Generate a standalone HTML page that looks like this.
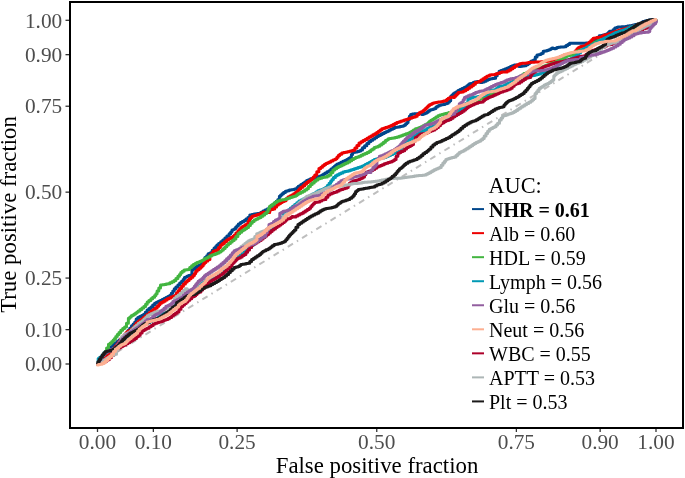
<!DOCTYPE html>
<html><head><meta charset="utf-8"><style>
html,body{margin:0;padding:0;background:#fff;}
body{width:685px;height:478px;overflow:hidden;}
svg{display:block;will-change:transform;}
text{font-family:"Liberation Serif",serif;}
.tk{font-size:21.3px;fill:#4D4D4D;}
.ti{font-size:22.8px;fill:#000;}
.lt{font-size:22.3px;fill:#000;}
.li{font-size:20px;fill:#000;}
.b{font-weight:bold;}
</style></head><body>
<svg width="685" height="478" viewBox="0 0 685 478">
<rect x="0" y="0" width="685" height="478" fill="#fff"/>
<line x1="97.5" y1="364.0" x2="656.0" y2="20.3" stroke="#BEBEBE" stroke-width="2" stroke-dasharray="1.52 4.56 6.08 4.56" />
<path d="M97.5,364.0 L98.4,364.0 L98.4,361.0 L99.2,361.0 L100.1,361.0 L100.1,358.0 L101.0,358.0 L102.0,358.0 L102.0,355.2 L103.0,355.2 L104.0,355.2 L104.0,352.5 L105.0,352.5 L105.8,352.5 L105.8,351.2 L106.7,351.2 L107.5,351.2 L107.5,349.9 L108.3,349.9 L109.2,349.9 L109.2,348.6 L110.0,348.6 L111.0,348.6 L111.0,346.7 L111.9,346.7 L112.8,346.7 L112.8,344.8 L113.8,344.8 L114.8,344.8 L114.8,343.1 L115.9,343.1 L117.0,343.1 L117.0,341.5 L118.0,341.5 L119.0,341.5 L119.0,340.0 L120.0,340.0 L121.0,340.0 L121.0,338.5 L122.0,338.5 L122.8,338.5 L122.8,336.7 L123.7,336.7 L124.5,336.7 L124.5,334.8 L125.3,334.8 L126.2,334.8 L126.2,333.0 L127.0,333.0 L127.9,333.0 L127.9,330.6 L128.8,330.6 L129.7,330.6 L129.7,328.2 L130.6,328.2 L131.5,328.2 L131.5,325.8 L132.4,325.8 L133.2,325.8 L133.2,323.9 L134.0,323.9 L134.8,323.9 L134.8,322.0 L135.6,322.0 L136.2,322.0 L136.2,318.9 L136.8,318.9 L137.8,318.9 L137.8,317.6 L138.7,317.6 L139.6,317.6 L139.6,316.4 L140.6,316.4 L141.6,316.4 L141.6,315.4 L142.5,315.4 L143.4,315.4 L143.4,314.5 L144.4,314.5 L145.3,314.5 L145.3,312.3 L146.2,312.3 L147.1,312.3 L147.1,310.1 L148.0,310.1 L148.9,310.1 L148.9,308.5 L149.9,308.5 L150.9,308.5 L150.9,306.9 L151.8,306.9 L152.7,306.9 L152.7,305.0 L153.7,305.0 L154.6,305.0 L154.6,303.2 L155.5,303.2 L156.4,303.2 L156.4,302.2 L157.4,302.2 L158.4,302.2 L158.4,301.3 L159.3,301.3 L160.2,301.3 L160.2,300.4 L161.2,300.4 L162.1,300.4 L162.1,299.4 L163.1,299.4 L164.0,299.4 L164.0,298.4 L164.9,298.4 L165.9,298.4 L165.9,297.5 L166.8,297.5 L167.8,297.5 L167.8,296.6 L168.7,296.6 L169.6,296.6 L169.6,295.6 L170.6,295.6 L171.3,295.6 L171.3,293.3 L172.1,293.3 L172.8,293.3 L172.8,291.1 L173.5,291.1 L174.3,291.1 L174.3,288.8 L175.0,288.8 L175.9,288.8 L175.9,286.9 L176.9,286.9 L177.9,286.9 L177.9,285.0 L178.8,285.0 L179.7,285.0 L179.7,283.1 L180.7,283.1 L181.6,283.1 L181.6,281.3 L182.5,281.3 L183.1,281.3 L183.1,279.4 L183.8,279.4 L184.4,279.4 L184.4,277.5 L185.0,277.5 L185.7,277.5 L185.7,276.9 L186.3,276.9 L186.9,276.9 L186.9,276.3 L187.6,276.3 L188.5,276.3 L188.5,275.6 L189.4,275.6 L190.4,275.6 L190.4,275.0 L191.3,275.0 L191.9,275.0 L191.9,270.1 L192.5,270.1 L193.3,270.1 L193.3,268.8 L194.2,268.8 L195.1,268.8 L195.1,267.6 L195.9,267.6 L196.8,267.6 L196.8,266.3 L197.6,266.3 L198.5,266.3 L198.5,265.4 L199.4,265.4 L200.4,265.4 L200.4,264.4 L201.3,264.4 L201.9,264.4 L201.9,263.1 L202.6,263.1 L203.2,263.1 L203.2,261.9 L203.8,261.9 L204.9,261.9 L204.9,257.5 L206.0,257.5 L206.7,257.5 L206.7,255.7 L207.4,255.7 L208.1,255.7 L208.1,253.8 L208.8,253.8 L209.4,253.8 L209.4,253.2 L210.1,253.2 L210.7,253.2 L210.7,252.5 L211.3,252.5 L212.2,252.5 L212.2,250.2 L213.2,250.2 L214.1,250.2 L214.1,248.0 L215.0,248.0 L215.7,248.0 L215.7,246.6 L216.3,246.6 L216.9,246.6 L216.9,245.1 L217.6,245.1 L218.6,245.1 L218.6,243.4 L219.7,243.4 L220.7,243.4 L220.7,241.8 L221.7,241.8 L222.8,241.8 L222.8,240.1 L223.8,240.1 L224.9,240.1 L224.9,238.0 L225.9,238.0 L226.9,238.0 L226.9,235.9 L228.0,235.9 L229.1,235.9 L229.1,233.8 L230.1,233.8 L230.7,233.8 L230.7,231.9 L231.3,231.9 L232.0,231.9 L232.0,230.0 L232.6,230.0 L233.2,230.0 L233.2,229.4 L233.8,229.4 L234.4,229.4 L234.4,228.8 L235.0,228.8 L235.6,228.8 L235.6,227.2 L236.2,227.2 L236.9,227.2 L236.9,225.7 L237.5,225.7 L238.4,225.7 L238.4,224.1 L239.4,224.1 L240.4,224.1 L240.4,222.5 L241.3,222.5 L242.2,222.5 L242.2,221.6 L243.2,221.6 L244.1,221.6 L244.1,220.6 L245.0,220.6 L245.9,220.6 L245.9,219.1 L246.9,219.1 L247.9,219.1 L247.9,217.5 L248.8,217.5 L249.8,217.5 L249.8,215.0 L250.7,215.0 L251.8,215.0 L251.8,214.5 L252.8,214.5 L253.9,214.5 L253.9,214.0 L255.0,214.0 L255.8,214.0 L255.8,213.7 L256.7,213.7 L257.5,213.7 L257.5,213.5 L258.3,213.5 L259.2,213.5 L259.2,213.2 L260.0,213.2 L261.0,213.2 L261.0,212.2 L262.0,212.2 L263.0,212.2 L263.0,211.1 L264.0,211.1 L265.0,211.1 L265.0,210.1 L266.0,210.1 L267.0,210.1 L267.0,209.0 L268.0,209.0 L269.0,209.0 L269.0,208.0 L270.0,208.0 L270.9,208.0 L270.9,206.3 L271.8,206.3 L272.6,206.3 L272.6,204.6 L273.5,204.6 L274.4,204.6 L274.4,202.9 L275.3,202.9 L276.2,202.9 L276.2,201.2 L277.0,201.2 L277.9,201.2 L277.9,199.5 L278.8,199.5 L279.4,199.5 L279.4,196.3 L280.0,196.3 L280.6,196.3 L280.6,195.1 L281.3,195.1 L282.0,195.1 L282.0,193.8 L282.6,193.8 L283.5,193.8 L283.5,192.6 L284.5,192.6 L285.4,192.6 L285.4,191.3 L286.3,191.3 L287.2,191.3 L287.2,190.7 L288.2,190.7 L289.2,190.7 L289.2,190.0 L290.1,190.0 L291.1,190.0 L291.1,189.7 L292.0,189.7 L292.9,189.7 L292.9,189.4 L293.9,189.4 L294.5,189.4 L294.5,189.1 L295.1,189.1 L295.8,189.1 L295.8,188.8 L296.4,188.8 L297.0,188.8 L297.0,187.6 L297.6,187.6 L298.3,187.6 L298.3,186.3 L298.9,186.3 L299.4,186.3 L299.4,185.7 L300.0,185.7 L300.9,185.7 L300.9,184.4 L301.9,184.4 L302.9,184.4 L302.9,183.2 L303.8,183.2 L304.7,183.2 L304.7,181.9 L305.6,181.9 L306.6,181.9 L306.6,180.6 L307.5,180.6 L308.4,180.6 L308.4,179.7 L309.4,179.7 L310.4,179.7 L310.4,178.8 L311.3,178.8 L312.1,178.8 L312.1,178.4 L313.0,178.4 L313.8,178.4 L313.8,177.9 L314.6,177.9 L315.5,177.9 L315.5,177.5 L316.3,177.5 L317.2,177.5 L317.2,176.9 L318.2,176.9 L319.2,176.9 L319.2,176.3 L320.1,176.3 L320.7,176.3 L320.7,175.7 L321.4,175.7 L322.0,175.7 L322.0,175.0 L322.6,175.0 L323.5,175.0 L323.5,174.0 L324.3,174.0 L325.1,174.0 L325.1,173.0 L326.0,173.0 L327.0,173.0 L327.0,171.8 L328.0,171.8 L329.0,171.8 L329.0,170.7 L330.0,170.7 L330.9,170.7 L330.9,169.1 L331.9,169.1 L332.9,169.1 L332.9,167.6 L333.8,167.6 L334.4,167.6 L334.4,166.3 L335.1,166.3 L335.7,166.3 L335.7,165.1 L336.3,165.1 L337.2,165.1 L337.2,164.1 L338.1,164.1 L339.1,164.1 L339.1,163.2 L340.0,163.2 L340.9,163.2 L340.9,162.2 L341.9,162.2 L342.9,162.2 L342.9,161.3 L343.8,161.3 L344.8,161.3 L344.8,160.4 L345.7,160.4 L346.7,160.4 L346.7,159.4 L347.6,159.4 L348.4,159.4 L348.4,158.4 L349.1,158.4 L349.9,158.4 L349.9,157.5 L350.7,157.5 L351.4,157.5 L351.4,154.4 L352.0,154.4 L352.6,154.4 L352.6,152.5 L353.2,152.5 L354.0,152.5 L354.0,152.2 L354.8,152.2 L355.6,152.2 L355.6,151.9 L356.4,151.9 L357.3,151.9 L357.3,151.4 L358.2,151.4 L359.1,151.4 L359.1,150.9 L360.0,150.9 L360.7,150.9 L360.7,150.0 L361.4,150.0 L362.5,150.0 L362.5,147.8 L363.5,147.8 L364.6,147.8 L364.6,145.7 L365.7,145.7 L366.8,145.7 L366.8,143.6 L367.9,143.6 L368.9,143.6 L368.9,141.4 L370.0,141.4 L370.9,141.4 L370.9,140.2 L371.9,140.2 L372.8,140.2 L372.8,138.9 L373.8,138.9 L374.7,138.9 L374.7,137.7 L375.6,137.7 L376.6,137.7 L376.6,136.4 L377.5,136.4 L378.4,136.4 L378.4,135.4 L379.4,135.4 L380.4,135.4 L380.4,134.5 L381.3,134.5 L382.2,134.5 L382.2,133.6 L383.2,133.6 L384.2,133.6 L384.2,132.6 L385.1,132.6 L385.9,132.6 L385.9,131.8 L386.8,131.8 L387.6,131.8 L387.6,130.9 L388.4,130.9 L389.3,130.9 L389.3,130.1 L390.1,130.1 L390.9,130.1 L390.9,129.3 L391.8,129.3 L392.6,129.3 L392.6,128.4 L393.4,128.4 L394.3,128.4 L394.3,127.6 L395.1,127.6 L396.0,127.6 L396.0,127.3 L397.0,127.3 L397.9,127.3 L397.9,126.9 L398.9,126.9 L399.8,126.9 L399.8,126.6 L400.7,126.6 L401.7,126.6 L401.7,126.3 L402.6,126.3 L403.2,126.3 L403.2,125.7 L403.8,125.7 L404.4,125.7 L404.4,125.1 L405.0,125.1 L405.6,125.1 L405.6,123.8 L406.2,123.8 L406.9,123.8 L406.9,122.6 L407.5,122.6 L408.1,122.6 L408.1,119.4 L408.8,119.4 L409.4,119.4 L409.4,116.3 L410.0,116.3 L410.6,116.3 L410.6,114.4 L411.3,114.4 L412.2,114.4 L412.2,114.1 L413.1,114.1 L414.1,114.1 L414.1,113.8 L415.0,113.8 L416.0,113.8 L416.0,113.7 L417.0,113.7 L418.0,113.7 L418.0,113.6 L419.0,113.6 L420.0,113.6 L420.0,113.5 L421.0,113.5 L421.8,113.5 L421.8,114.4 L422.5,114.4 L423.1,114.4 L423.1,114.0 L423.8,114.0 L424.4,114.0 L424.4,113.6 L425.0,113.6 L425.6,113.6 L425.6,112.9 L426.2,112.9 L426.9,112.9 L426.9,112.3 L427.5,112.3 L428.1,112.3 L428.1,111.2 L428.8,111.2 L429.4,111.2 L429.4,110.2 L430.0,110.2 L430.6,110.2 L430.6,109.8 L431.3,109.8 L432.0,109.8 L432.0,109.4 L432.6,109.4 L433.2,109.4 L433.2,109.0 L433.9,109.0 L434.5,109.0 L434.5,108.6 L435.1,108.6 L435.9,108.6 L435.9,106.9 L436.7,106.9 L437.5,106.9 L437.5,106.0 L438.4,106.0 L439.2,106.0 L439.2,105.2 L440.0,105.2 L440.9,105.2 L440.9,104.8 L441.9,104.8 L442.9,104.8 L442.9,104.4 L443.8,104.4 L444.8,104.4 L444.8,103.8 L445.7,103.8 L446.7,103.8 L446.7,103.2 L447.6,103.2 L448.2,103.2 L448.2,102.0 L448.9,102.0 L449.5,102.0 L449.5,100.7 L450.1,100.7 L450.7,100.7 L450.7,96.3 L451.3,96.3 L451.9,96.3 L451.9,95.0 L452.6,95.0 L453.2,95.0 L453.2,93.8 L453.8,93.8 L454.6,93.8 L454.6,92.7 L455.5,92.7 L456.4,92.7 L456.4,91.7 L457.2,91.7 L458.0,91.7 L458.0,90.6 L458.9,90.6 L459.9,90.6 L459.9,89.6 L460.9,89.6 L461.9,89.6 L461.9,88.6 L463.0,88.6 L464.0,88.6 L464.0,87.6 L465.0,87.6 L465.6,87.6 L465.6,86.7 L466.2,86.7 L466.9,86.7 L466.9,85.7 L467.5,85.7 L468.1,85.7 L468.1,84.8 L468.8,84.8 L469.4,84.8 L469.4,83.8 L470.0,83.8 L470.6,83.8 L470.6,83.5 L471.2,83.5 L471.9,83.5 L471.9,83.2 L472.5,83.2 L473.1,83.2 L473.1,82.6 L473.8,82.6 L474.4,82.6 L474.4,81.9 L475.0,81.9 L475.8,81.9 L475.8,81.7 L476.5,81.7 L477.2,81.7 L477.2,81.5 L478.0,81.5 L478.8,81.5 L478.8,82.0 L479.6,82.0 L480.5,82.0 L480.5,82.6 L481.3,82.6 L482.2,82.6 L482.2,81.9 L483.2,81.9 L484.2,81.9 L484.2,81.3 L485.1,81.3 L486.1,81.3 L486.1,80.3 L487.0,80.3 L487.9,80.3 L487.9,79.4 L488.9,79.4 L489.5,79.4 L489.5,79.1 L490.1,79.1 L490.8,79.1 L490.8,78.8 L491.4,78.8 L492.3,78.8 L492.3,78.5 L493.2,78.5 L494.1,78.5 L494.1,78.2 L495.0,78.2 L495.6,78.2 L495.6,75.7 L496.3,75.7 L497.2,75.7 L497.2,73.5 L498.1,73.5 L499.1,73.5 L499.1,71.3 L500.0,71.3 L500.9,71.3 L500.9,70.5 L501.9,70.5 L502.9,70.5 L502.9,69.8 L503.8,69.8 L504.8,69.8 L504.8,69.0 L505.7,69.0 L506.7,69.0 L506.7,68.2 L507.6,68.2 L508.5,68.2 L508.5,67.4 L509.5,67.4 L510.4,67.4 L510.4,66.6 L511.3,66.6 L512.2,66.6 L512.2,65.8 L513.2,65.8 L514.2,65.8 L514.2,65.0 L515.1,65.0 L515.8,65.0 L515.8,65.0 L516.5,65.0 L517.3,65.0 L517.3,65.0 L518.0,65.0 L519.0,65.0 L519.0,66.6 L520.1,66.6 L520.9,66.6 L520.9,66.3 L521.7,66.3 L522.5,66.3 L522.5,66.0 L523.4,66.0 L524.2,66.0 L524.2,65.7 L525.0,65.7 L526.0,65.7 L526.0,64.8 L526.9,64.8 L527.8,64.8 L527.8,63.8 L528.8,63.8 L529.4,63.8 L529.4,62.5 L530.0,62.5 L530.7,62.5 L530.7,61.3 L531.3,61.3 L532.1,61.3 L532.1,60.7 L532.8,60.7 L533.6,60.7 L533.6,60.1 L534.4,60.1 L535.3,60.1 L535.3,56.9 L536.3,56.9 L537.0,56.9 L537.0,55.0 L537.6,55.0 L538.2,55.0 L538.2,54.7 L538.9,54.7 L539.5,54.7 L539.5,54.4 L540.1,54.4 L540.7,54.4 L540.7,53.8 L541.4,53.8 L542.0,53.8 L542.0,53.2 L542.6,53.2 L543.2,53.2 L543.2,51.3 L543.8,51.3 L544.8,51.3 L544.8,51.0 L545.7,51.0 L546.7,51.0 L546.7,50.6 L547.6,50.6 L548.2,50.6 L548.2,50.0 L548.9,50.0 L549.5,50.0 L549.5,49.4 L550.1,49.4 L550.7,49.4 L550.7,48.8 L551.4,48.8 L552.0,48.8 L552.0,48.1 L552.6,48.1 L553.2,48.1 L553.2,48.4 L553.8,48.4 L554.4,48.4 L554.4,48.7 L555.0,48.7 L555.6,48.7 L555.6,48.2 L556.2,48.2 L556.9,48.2 L556.9,47.6 L557.5,47.6 L558.5,47.6 L558.5,47.3 L559.4,47.3 L560.3,47.3 L560.3,47.0 L561.3,47.0 L562.2,47.0 L562.2,46.9 L563.1,46.9 L564.1,46.9 L564.1,46.7 L565.0,46.7 L566.0,46.7 L566.0,45.6 L566.9,45.6 L567.8,45.6 L567.8,44.5 L568.8,44.5 L569.5,44.5 L569.5,43.3 L570.1,43.3 L571.2,43.3 L571.2,43.3 L572.2,43.3 L573.3,43.3 L573.3,43.3 L574.4,43.3 L575.4,43.3 L575.4,43.3 L576.5,43.3 L577.5,43.3 L577.5,43.3 L578.6,43.3 L579.7,43.3 L579.7,43.3 L580.7,43.3 L581.8,43.3 L581.8,43.3 L582.9,43.3 L583.9,43.3 L583.9,43.3 L585.0,43.3 L585.8,43.3 L585.8,43.1 L586.7,43.1 L587.5,43.1 L587.5,43.0 L588.3,43.0 L589.2,43.0 L589.2,42.8 L590.0,42.8 L590.8,42.8 L590.8,42.1 L591.7,42.1 L592.5,42.1 L592.5,41.4 L593.3,41.4 L594.2,41.4 L594.2,40.7 L595.0,40.7 L595.9,40.7 L595.9,39.0 L596.7,39.0 L597.5,39.0 L597.5,37.4 L598.4,37.4 L599.2,37.4 L599.2,35.7 L600.1,35.7 L601.0,35.7 L601.0,35.4 L602.0,35.4 L602.9,35.4 L602.9,35.0 L603.8,35.0 L604.8,35.0 L604.8,34.4 L605.7,34.4 L606.7,34.4 L606.7,33.8 L607.6,33.8 L608.2,33.8 L608.2,32.5 L608.9,32.5 L609.5,32.5 L609.5,31.3 L610.1,31.3 L611.0,31.3 L611.0,31.5 L612.0,31.5 L613.0,31.5 L613.0,29.7 L613.9,29.7 L614.8,29.7 L614.8,27.9 L615.8,27.9 L616.4,27.9 L616.4,27.4 L617.0,27.4 L617.7,27.4 L617.7,27.0 L618.3,27.0 L619.3,27.0 L619.3,26.9 L620.4,26.9 L621.5,26.9 L621.5,26.8 L622.5,26.8 L623.5,26.8 L623.5,26.7 L624.6,26.7 L625.5,26.7 L625.5,26.4 L626.5,26.4 L627.4,26.4 L627.4,26.1 L628.3,26.1 L629.2,26.1 L629.2,25.8 L630.2,25.8 L631.2,25.8 L631.2,25.4 L632.1,25.4 L633.0,25.4 L633.0,24.9 L634.0,24.9 L635.0,24.9 L635.0,24.5 L635.9,24.5 L636.8,24.5 L636.8,24.4 L637.8,24.4 L638.7,24.4 L638.7,24.2 L639.6,24.2 L640.7,24.2 L640.7,22.9 L641.7,22.9 L642.8,22.9 L642.8,21.5 L643.8,21.5 L644.8,21.5 L644.8,21.0 L645.7,21.0 L646.7,21.0 L646.7,20.5 L647.6,20.5 L648.7,20.5 L648.7,20.1 L649.8,20.1 L650.9,20.1 L650.9,19.8 L652.0,19.8 L652.8,19.8 L652.8,19.7 L653.5,19.7 L654.2,19.7 L654.2,19.6 L655.0,19.6" fill="none" stroke="#00468B" stroke-width="3" stroke-linejoin="round" stroke-linecap="round"/>
<path d="M97.5,364.0 L98.2,364.0 L98.2,362.3 L99.0,362.3 L99.8,362.3 L99.8,360.7 L100.5,360.7 L101.2,360.7 L101.2,359.0 L102.0,359.0 L102.8,359.0 L102.8,357.8 L103.6,357.8 L104.5,357.8 L104.5,356.7 L105.3,356.7 L106.1,356.7 L106.1,355.5 L106.9,355.5 L107.9,355.5 L107.9,353.8 L109.0,353.8 L110.0,353.8 L110.0,352.0 L111.0,352.0 L111.9,352.0 L111.9,350.0 L112.8,350.0 L113.6,350.0 L113.6,348.0 L114.5,348.0 L115.4,348.0 L115.4,346.0 L116.2,346.0 L117.1,346.0 L117.1,344.0 L118.0,344.0 L118.8,344.0 L118.8,341.7 L119.7,341.7 L120.5,341.7 L120.5,339.3 L121.3,339.3 L122.2,339.3 L122.2,337.0 L123.0,337.0 L123.7,337.0 L123.7,335.4 L124.5,335.4 L125.2,335.4 L125.2,333.7 L125.9,333.7 L126.7,333.7 L126.7,332.1 L127.4,332.1 L128.2,332.1 L128.2,331.1 L129.0,331.1 L129.8,331.1 L129.8,330.2 L130.6,330.2 L131.4,330.2 L131.4,328.9 L132.1,328.9 L132.9,328.9 L132.9,327.7 L133.7,327.7 L134.5,327.7 L134.5,325.5 L135.2,325.5 L136.0,325.5 L136.0,323.3 L136.8,323.3 L137.8,323.3 L137.8,321.8 L138.7,321.8 L139.6,321.8 L139.6,320.2 L140.6,320.2 L141.6,320.2 L141.6,318.9 L142.5,318.9 L143.4,318.9 L143.4,317.6 L144.4,317.6 L145.3,317.6 L145.3,316.1 L146.2,316.1 L147.1,316.1 L147.1,314.5 L148.0,314.5 L149.1,314.5 L149.1,312.8 L150.1,312.8 L151.2,312.8 L151.2,311.1 L152.2,311.1 L153.2,311.1 L153.2,309.4 L154.3,309.4 L155.2,309.4 L155.2,307.9 L156.2,307.9 L157.1,307.9 L157.1,306.3 L158.0,306.3 L158.7,306.3 L158.7,304.8 L159.3,304.8 L159.9,304.8 L159.9,303.2 L160.6,303.2 L161.5,303.2 L161.5,302.2 L162.4,302.2 L163.4,302.2 L163.4,301.3 L164.3,301.3 L165.2,301.3 L165.2,300.1 L166.2,300.1 L167.1,300.1 L167.1,298.8 L168.1,298.8 L169.1,298.8 L169.1,297.9 L170.0,297.9 L170.9,297.9 L170.9,296.9 L171.9,296.9 L172.8,296.9 L172.8,296.2 L173.8,296.2 L174.7,296.2 L174.7,295.6 L175.6,295.6 L176.4,295.6 L176.4,293.1 L177.2,293.1 L178.0,293.1 L178.0,290.7 L178.8,290.7 L179.7,290.7 L179.7,288.5 L180.7,288.5 L181.6,288.5 L181.6,286.3 L182.5,286.3 L183.4,286.3 L183.4,284.1 L184.4,284.1 L185.4,284.1 L185.4,281.9 L186.3,281.9 L187.2,281.9 L187.2,280.4 L188.2,280.4 L189.1,280.4 L189.1,278.8 L190.1,278.8 L191.0,278.8 L191.0,277.2 L191.9,277.2 L192.9,277.2 L192.9,275.6 L193.8,275.6 L194.4,275.6 L194.4,273.5 L195.1,273.5 L195.7,273.5 L195.7,271.3 L196.3,271.3 L197.2,271.3 L197.2,269.8 L198.2,269.8 L199.1,269.8 L199.1,268.2 L200.1,268.2 L200.7,268.2 L200.7,266.9 L201.3,266.9 L202.0,266.9 L202.0,265.7 L202.6,265.7 L203.2,265.7 L203.2,264.1 L203.8,264.1 L204.4,264.1 L204.4,262.6 L205.0,262.6 L205.9,262.6 L205.9,261.0 L206.9,261.0 L207.9,261.0 L207.9,259.4 L208.8,259.4 L209.9,259.4 L209.9,255.0 L211.0,255.0 L211.7,255.0 L211.7,253.2 L212.4,253.2 L213.1,253.2 L213.1,251.3 L213.8,251.3 L214.8,251.3 L214.8,250.7 L215.7,250.7 L216.6,250.7 L216.6,250.0 L217.6,250.0 L218.5,250.0 L218.5,247.6 L219.4,247.6 L220.4,247.6 L220.4,245.1 L221.3,245.1 L222.4,245.1 L222.4,243.4 L223.4,243.4 L224.4,243.4 L224.4,241.8 L225.5,241.8 L226.6,241.8 L226.6,240.1 L227.6,240.1 L228.6,240.1 L228.6,238.8 L229.7,238.8 L230.8,238.8 L230.8,237.6 L231.8,237.6 L232.9,237.6 L232.9,236.3 L233.9,236.3 L234.4,236.3 L234.4,235.1 L235.0,235.1 L235.9,235.1 L235.9,232.9 L236.9,232.9 L237.9,232.9 L237.9,230.7 L238.8,230.7 L239.7,230.7 L239.7,228.8 L240.7,228.8 L241.6,228.8 L241.6,226.9 L242.5,226.9 L243.3,226.9 L243.3,225.9 L244.2,225.9 L245.1,225.9 L245.1,224.8 L245.9,224.8 L246.8,224.8 L246.8,223.8 L247.6,223.8 L248.2,223.8 L248.2,221.3 L248.8,221.3 L249.5,221.3 L249.5,218.8 L250.1,218.8 L250.7,218.8 L250.7,217.6 L251.3,217.6 L252.0,217.6 L252.0,216.3 L252.6,216.3 L253.5,216.3 L253.5,215.7 L254.5,215.7 L255.4,215.7 L255.4,215.2 L256.4,215.2 L257.3,215.2 L257.3,214.6 L258.2,214.6 L259.2,214.6 L259.2,214.0 L260.1,214.0 L261.0,214.0 L261.0,213.1 L262.0,213.1 L262.9,213.1 L262.9,212.2 L263.8,212.2 L264.7,212.2 L264.7,212.3 L265.7,212.3 L266.6,212.3 L266.6,212.4 L267.5,212.4 L268.5,212.4 L268.5,212.5 L269.4,212.5 L269.7,212.5 L269.7,210.0 L270.0,210.0 L270.9,210.0 L270.9,209.4 L271.9,209.4 L272.9,209.4 L272.9,208.9 L273.8,208.9 L274.7,208.9 L274.7,207.0 L275.6,207.0 L276.6,207.0 L276.6,205.1 L277.5,205.1 L278.4,205.1 L278.4,203.8 L279.4,203.8 L280.4,203.8 L280.4,202.6 L281.3,202.6 L282.2,202.6 L282.2,201.6 L283.2,201.6 L284.2,201.6 L284.2,200.7 L285.1,200.7 L286.0,200.7 L286.0,198.8 L287.0,198.8 L287.9,198.8 L287.9,196.9 L288.8,196.9 L289.8,196.9 L289.8,196.0 L290.7,196.0 L291.7,196.0 L291.7,195.1 L292.6,195.1 L293.6,195.1 L293.6,193.8 L294.5,193.8 L295.4,193.8 L295.4,192.6 L296.4,192.6 L297.0,192.6 L297.0,191.3 L297.6,191.3 L298.3,191.3 L298.3,190.0 L298.9,190.0 L299.4,190.0 L299.4,188.8 L300.0,188.8 L300.9,188.8 L300.9,187.2 L301.9,187.2 L302.9,187.2 L302.9,185.7 L303.8,185.7 L304.7,185.7 L304.7,184.1 L305.6,184.1 L306.6,184.1 L306.6,182.5 L307.5,182.5 L308.4,182.5 L308.4,181.2 L309.4,181.2 L310.4,181.2 L310.4,180.0 L311.3,180.0 L311.9,180.0 L311.9,178.4 L312.6,178.4 L313.2,178.4 L313.2,176.9 L313.8,176.9 L314.8,176.9 L314.8,175.0 L315.7,175.0 L316.8,175.0 L316.8,171.8 L317.9,171.8 L318.9,171.8 L318.9,168.5 L320.0,168.5 L320.8,168.5 L320.8,167.2 L321.7,167.2 L322.5,167.2 L322.5,165.8 L323.3,165.8 L324.2,165.8 L324.2,164.5 L325.0,164.5 L325.8,164.5 L325.8,163.6 L326.7,163.6 L327.5,163.6 L327.5,162.8 L328.3,162.8 L329.2,162.8 L329.2,161.9 L330.0,161.9 L330.9,161.9 L330.9,160.9 L331.9,160.9 L332.9,160.9 L332.9,160.0 L333.8,160.0 L334.4,160.0 L334.4,159.4 L335.1,159.4 L335.7,159.4 L335.7,158.8 L336.3,158.8 L336.9,158.8 L336.9,157.2 L337.6,157.2 L338.2,157.2 L338.2,155.6 L338.8,155.6 L339.8,155.6 L339.8,154.3 L340.7,154.3 L341.7,154.3 L341.7,153.1 L342.6,153.1 L343.5,153.1 L343.5,152.6 L344.5,152.6 L345.4,152.6 L345.4,152.2 L346.3,152.2 L347.2,152.2 L347.2,151.8 L348.2,151.8 L349.2,151.8 L349.2,151.3 L350.1,151.3 L351.1,151.3 L351.1,150.8 L352.0,150.8 L352.9,150.8 L352.9,150.3 L353.9,150.3 L354.9,150.3 L354.9,147.9 L355.9,147.9 L356.9,147.9 L356.9,145.4 L358.0,145.4 L359.0,145.4 L359.0,143.0 L360.0,143.0 L361.0,143.0 L361.0,141.8 L362.0,141.8 L363.0,141.8 L363.0,140.6 L364.0,140.6 L365.0,140.6 L365.0,139.4 L366.0,139.4 L367.0,139.4 L367.0,138.2 L368.0,138.2 L369.0,138.2 L369.0,137.0 L370.0,137.0 L370.9,137.0 L370.9,135.9 L371.9,135.9 L372.8,135.9 L372.8,134.8 L373.8,134.8 L374.7,134.8 L374.7,133.7 L375.6,133.7 L376.6,133.7 L376.6,132.6 L377.5,132.6 L378.4,132.6 L378.4,131.3 L379.2,131.3 L380.1,131.3 L380.1,130.1 L380.9,130.1 L381.8,130.1 L381.8,128.8 L382.6,128.8 L383.5,128.8 L383.5,128.2 L384.5,128.2 L385.4,128.2 L385.4,127.6 L386.4,127.6 L387.3,127.6 L387.3,126.9 L388.2,126.9 L389.2,126.9 L389.2,126.3 L390.1,126.3 L391.0,126.3 L391.0,125.4 L392.0,125.4 L392.9,125.4 L392.9,124.4 L393.9,124.4 L394.8,124.4 L394.8,123.5 L395.7,123.5 L396.7,123.5 L396.7,122.6 L397.6,122.6 L398.5,122.6 L398.5,121.9 L399.5,121.9 L400.4,121.9 L400.4,121.3 L401.3,121.3 L402.2,121.3 L402.2,120.7 L403.1,120.7 L404.1,120.7 L404.1,120.0 L405.0,120.0 L405.9,120.0 L405.9,119.4 L406.9,119.4 L407.9,119.4 L407.9,118.8 L408.8,118.8 L409.7,118.8 L409.7,118.2 L410.6,118.2 L411.6,118.2 L411.6,117.5 L412.5,117.5 L413.4,117.5 L413.4,116.9 L414.4,116.9 L415.4,116.9 L415.4,116.3 L416.3,116.3 L417.2,116.3 L417.2,114.5 L418.1,114.5 L419.1,114.5 L419.1,112.7 L420.0,112.7 L420.6,112.7 L420.6,112.1 L421.2,112.1 L421.9,112.1 L421.9,111.5 L422.5,111.5 L423.1,111.5 L423.1,110.5 L423.8,110.5 L424.4,110.5 L424.4,109.4 L425.0,109.4 L425.6,109.4 L425.6,108.2 L426.2,108.2 L426.9,108.2 L426.9,106.9 L427.5,106.9 L428.1,106.9 L428.1,105.8 L428.8,105.8 L429.4,105.8 L429.4,104.8 L430.0,104.8 L430.6,104.8 L430.6,104.2 L431.3,104.2 L432.0,104.2 L432.0,103.5 L432.6,103.5 L433.2,103.5 L433.2,103.1 L433.9,103.1 L434.5,103.1 L434.5,102.7 L435.1,102.7 L435.7,102.7 L435.7,102.5 L436.4,102.5 L437.0,102.5 L437.0,102.3 L437.6,102.3 L438.2,102.3 L438.2,102.1 L438.8,102.1 L439.4,102.1 L439.4,101.9 L440.0,101.9 L440.6,101.9 L440.6,101.8 L441.2,101.8 L441.9,101.8 L441.9,101.6 L442.5,101.6 L443.4,101.6 L443.4,101.0 L444.4,101.0 L445.4,101.0 L445.4,100.4 L446.3,100.4 L446.9,100.4 L446.9,99.3 L447.6,99.3 L448.2,99.3 L448.2,98.2 L448.8,98.2 L449.4,98.2 L449.4,97.7 L450.1,97.7 L450.7,97.7 L450.7,97.2 L451.3,97.2 L451.9,97.2 L451.9,97.3 L452.6,97.3 L453.2,97.3 L453.2,97.5 L453.8,97.5 L454.4,97.5 L454.4,96.2 L455.1,96.2 L455.7,96.2 L455.7,95.0 L456.3,95.0 L457.0,95.0 L457.0,93.8 L457.6,93.8 L458.2,93.8 L458.2,92.5 L458.9,92.5 L459.8,92.5 L459.8,92.2 L460.8,92.2 L461.7,92.2 L461.7,91.9 L462.6,91.9 L463.2,91.9 L463.2,91.3 L463.8,91.3 L464.4,91.3 L464.4,90.7 L465.0,90.7 L465.9,90.7 L465.9,89.5 L466.9,89.5 L467.9,89.5 L467.9,88.2 L468.8,88.2 L469.7,88.2 L469.7,87.0 L470.6,87.0 L471.6,87.0 L471.6,85.7 L472.5,85.7 L473.4,85.7 L473.4,84.2 L474.4,84.2 L475.4,84.2 L475.4,82.6 L476.3,82.6 L477.2,82.6 L477.2,81.9 L478.2,81.9 L479.2,81.9 L479.2,81.3 L480.1,81.3 L481.0,81.3 L481.0,80.0 L482.0,80.0 L482.9,80.0 L482.9,78.8 L483.8,78.8 L484.8,78.8 L484.8,77.5 L485.7,77.5 L486.7,77.5 L486.7,76.3 L487.6,76.3 L488.2,76.3 L488.2,75.7 L488.9,75.7 L489.5,75.7 L489.5,75.0 L490.1,75.0 L490.9,75.0 L490.9,74.8 L491.7,74.8 L492.6,74.8 L492.6,74.7 L493.4,74.7 L494.2,74.7 L494.2,74.5 L495.0,74.5 L495.9,74.5 L495.9,73.8 L496.9,73.8 L497.9,73.8 L497.9,73.2 L498.8,73.2 L499.7,73.2 L499.7,72.6 L500.6,72.6 L501.6,72.6 L501.6,72.0 L502.5,72.0 L503.4,72.0 L503.4,72.0 L504.4,72.0 L505.4,72.0 L505.4,72.0 L506.3,72.0 L507.2,72.0 L507.2,71.0 L508.2,71.0 L509.2,71.0 L509.2,70.1 L510.1,70.1 L511.0,70.1 L511.0,68.8 L511.9,68.8 L512.9,68.8 L512.9,67.6 L513.8,67.6 L514.8,67.6 L514.8,66.3 L515.7,66.3 L516.7,66.3 L516.7,65.0 L517.6,65.0 L518.2,65.0 L518.2,64.4 L518.9,64.4 L519.5,64.4 L519.5,63.8 L520.1,63.8 L520.7,63.8 L520.7,63.5 L521.4,63.5 L522.0,63.5 L522.0,63.2 L522.6,63.2 L523.2,63.2 L523.2,63.2 L523.8,63.2 L524.4,63.2 L524.4,63.2 L525.0,63.2 L526.0,63.2 L526.0,62.9 L527.1,62.9 L528.1,62.9 L528.1,62.6 L529.2,62.6 L530.2,62.6 L530.2,62.3 L531.3,62.3 L532.3,62.3 L532.3,62.2 L533.4,62.2 L534.5,62.2 L534.5,62.1 L535.5,62.1 L536.5,62.1 L536.5,62.0 L537.6,62.0 L538.6,62.0 L538.6,61.9 L539.7,61.9 L540.7,61.9 L540.7,61.7 L541.7,61.7 L542.8,61.7 L542.8,61.6 L543.8,61.6 L544.8,61.6 L544.8,61.4 L545.9,61.4 L546.9,61.4 L546.9,61.2 L547.9,61.2 L549.0,61.2 L549.0,61.0 L550.0,61.0 L550.9,61.0 L550.9,60.4 L551.8,60.4 L552.6,60.4 L552.6,59.8 L553.5,59.8 L554.4,59.8 L554.4,59.1 L555.2,59.1 L556.1,59.1 L556.1,58.5 L557.0,58.5 L558.0,58.5 L558.0,57.6 L559.0,57.6 L560.0,57.6 L560.0,56.8 L561.0,56.8 L562.0,56.8 L562.0,55.9 L563.0,55.9 L564.0,55.9 L564.0,55.0 L565.0,55.0 L565.9,55.0 L565.9,54.6 L566.8,54.6 L567.6,54.6 L567.6,54.2 L568.5,54.2 L569.4,54.2 L569.4,53.9 L570.2,53.9 L571.1,53.9 L571.1,53.5 L572.0,53.5 L572.8,53.5 L572.8,52.8 L573.5,52.8 L574.3,52.8 L574.3,52.0 L575.1,52.0 L575.7,52.0 L575.7,50.4 L576.4,50.4 L577.0,50.4 L577.0,48.8 L577.6,48.8 L578.2,48.8 L578.2,47.8 L578.9,47.8 L579.5,47.8 L579.5,46.9 L580.1,46.9 L580.7,46.9 L580.7,46.6 L581.4,46.6 L582.0,46.6 L582.0,46.3 L582.6,46.3 L583.2,46.3 L583.2,46.1 L583.8,46.1 L584.4,46.1 L584.4,46.0 L585.0,46.0 L586.0,46.0 L586.0,44.6 L586.9,44.6 L587.8,44.6 L587.8,43.2 L588.8,43.2 L589.4,43.2 L589.4,42.0 L590.0,42.0 L590.7,42.0 L590.7,40.7 L591.3,40.7 L591.9,40.7 L591.9,39.5 L592.5,39.5 L593.2,39.5 L593.2,38.2 L593.8,38.2 L594.8,38.2 L594.8,37.9 L595.7,37.9 L596.7,37.9 L596.7,37.6 L597.6,37.6 L598.5,37.6 L598.5,37.2 L599.5,37.2 L600.4,37.2 L600.4,36.9 L601.3,36.9 L602.2,36.9 L602.2,36.0 L603.2,36.0 L604.2,36.0 L604.2,35.0 L605.1,35.0 L605.7,35.0 L605.7,34.7 L606.4,34.7 L607.0,34.7 L607.0,34.4 L607.6,34.4 L608.7,34.4 L608.7,33.7 L609.8,33.7 L610.9,33.7 L610.9,33.0 L612.0,33.0 L613.0,33.0 L613.0,32.2 L614.0,32.2 L615.0,32.2 L615.0,31.5 L616.0,31.5 L617.0,31.5 L617.0,30.8 L618.0,30.8 L619.0,30.8 L619.0,30.0 L620.0,30.0 L621.0,30.0 L621.0,29.4 L622.0,29.4 L623.0,29.4 L623.0,28.9 L624.0,28.9 L625.0,28.9 L625.0,28.4 L626.0,28.4 L627.0,28.4 L627.0,27.8 L628.0,27.8 L629.0,27.8 L629.0,27.2 L630.0,27.2 L631.0,27.2 L631.0,26.7 L632.0,26.7 L633.0,26.7 L633.0,26.1 L634.0,26.1 L635.0,26.1 L635.0,25.6 L636.0,25.6 L637.0,25.6 L637.0,25.1 L638.0,25.1 L639.0,25.1 L639.0,24.5 L640.0,24.5 L641.0,24.5 L641.0,24.0 L642.0,24.0 L643.0,24.0 L643.0,23.4 L644.0,23.4 L645.0,23.4 L645.0,22.9 L646.0,22.9 L647.0,22.9 L647.0,22.4 L648.0,22.4 L649.0,22.4 L649.0,21.9 L650.0,21.9 L651.0,21.9 L651.0,21.4 L652.0,21.4 L653.0,21.4 L653.0,20.8 L654.0,20.8 L655.0,20.8 L655.0,20.3 L656.0,20.3" fill="none" stroke="#ED0000" stroke-width="3" stroke-linejoin="round" stroke-linecap="round"/>
<path d="M97.5,364.0 L98.1,364.0 L98.1,361.8 L98.8,361.8 L99.4,361.8 L99.4,359.5 L100.0,359.5 L100.8,359.5 L100.8,357.2 L101.6,357.2 L102.4,357.2 L102.4,355.0 L103.2,355.0 L103.8,355.0 L103.8,353.2 L104.5,353.2 L105.1,353.2 L105.1,351.4 L105.7,351.4 L106.6,351.4 L106.6,348.0 L107.5,348.0 L108.5,348.0 L108.5,344.2 L109.4,344.2 L110.2,344.2 L110.2,342.9 L111.0,342.9 L111.8,342.9 L111.8,341.6 L112.6,341.6 L113.2,341.6 L113.2,340.1 L113.8,340.1 L114.5,340.1 L114.5,338.5 L115.1,338.5 L115.8,338.5 L115.8,336.6 L116.5,336.6 L117.3,336.6 L117.3,334.6 L118.0,334.6 L119.0,334.6 L119.0,332.4 L119.9,332.4 L120.8,332.4 L120.8,330.2 L121.8,330.2 L122.7,330.2 L122.7,328.6 L123.7,328.6 L124.6,328.6 L124.6,327.1 L125.5,327.1 L126.5,327.1 L126.5,323.3 L127.4,323.3 L128.4,323.3 L128.4,318.3 L129.3,318.3 L129.9,318.3 L129.9,317.1 L130.6,317.1 L131.2,317.1 L131.2,315.8 L131.8,315.8 L132.6,315.8 L132.6,314.9 L133.4,314.9 L134.2,314.9 L134.2,313.9 L135.0,313.9 L135.6,313.9 L135.6,312.9 L136.2,312.9 L136.9,312.9 L136.9,312.0 L137.5,312.0 L138.2,312.0 L138.2,311.0 L139.0,311.0 L140.0,311.0 L140.0,309.5 L140.9,309.5 L141.9,309.5 L141.9,308.1 L142.9,308.1 L143.8,308.1 L143.8,306.6 L144.8,306.6 L145.6,306.6 L145.6,304.2 L146.4,304.2 L147.2,304.2 L147.2,301.9 L148.0,301.9 L148.9,301.9 L148.9,300.4 L149.9,300.4 L150.9,300.4 L150.9,298.8 L151.8,298.8 L152.7,298.8 L152.7,297.2 L153.7,297.2 L154.6,297.2 L154.6,295.6 L155.5,295.6 L155.9,295.6 L155.9,293.8 L156.3,293.8 L157.1,293.8 L157.1,290.9 L158.0,290.9 L158.8,290.9 L158.8,288.0 L159.6,288.0 L160.5,288.0 L160.5,285.1 L161.3,285.1 L162.2,285.1 L162.2,284.8 L163.2,284.8 L164.1,284.8 L164.1,284.5 L165.1,284.5 L166.0,284.5 L166.0,284.1 L166.9,284.1 L167.9,284.1 L167.9,283.8 L168.8,283.8 L169.8,283.8 L169.8,282.7 L170.9,282.7 L171.9,282.7 L171.9,281.7 L172.9,281.7 L174.0,281.7 L174.0,280.6 L175.0,280.6 L175.9,280.6 L175.9,278.5 L176.9,278.5 L177.9,278.5 L177.9,276.3 L178.8,276.3 L179.5,276.3 L179.5,274.4 L180.1,274.4 L180.8,274.4 L180.8,272.5 L181.4,272.5 L182.3,272.5 L182.3,271.3 L183.2,271.3 L184.1,271.3 L184.1,270.1 L185.0,270.1 L185.9,270.1 L185.9,269.8 L186.9,269.8 L187.9,269.8 L187.9,269.4 L188.8,269.4 L189.7,269.4 L189.7,267.5 L190.7,267.5 L191.6,267.5 L191.6,265.7 L192.5,265.7 L193.3,265.7 L193.3,264.6 L194.2,264.6 L195.1,264.6 L195.1,263.6 L195.9,263.6 L196.8,263.6 L196.8,262.5 L197.6,262.5 L198.4,262.5 L198.4,261.9 L199.3,261.9 L200.1,261.9 L200.1,261.2 L200.9,261.2 L201.8,261.2 L201.8,260.6 L202.6,260.6 L203.2,260.6 L203.2,259.7 L203.8,259.7 L204.4,259.7 L204.4,258.8 L205.0,258.8 L205.9,258.8 L205.9,257.9 L206.9,257.9 L207.9,257.9 L207.9,256.9 L208.8,256.9 L209.7,256.9 L209.7,255.9 L210.7,255.9 L211.6,255.9 L211.6,255.0 L212.5,255.0 L213.4,255.0 L213.4,254.4 L214.4,254.4 L215.4,254.4 L215.4,253.8 L216.3,253.8 L217.2,253.8 L217.2,252.9 L218.2,252.9 L219.1,252.9 L219.1,251.9 L220.1,251.9 L220.7,251.9 L220.7,250.9 L221.3,250.9 L222.0,250.9 L222.0,250.0 L222.6,250.0 L223.4,250.0 L223.4,248.4 L224.3,248.4 L225.1,248.4 L225.1,246.7 L225.9,246.7 L226.8,246.7 L226.8,245.1 L227.6,245.1 L228.5,245.1 L228.5,243.6 L229.4,243.6 L230.4,243.6 L230.4,242.0 L231.3,242.0 L232.2,242.0 L232.2,240.4 L233.2,240.4 L234.1,240.4 L234.1,238.9 L235.0,238.9 L235.9,238.9 L235.9,236.4 L236.9,236.4 L237.9,236.4 L237.9,233.8 L238.8,233.8 L239.7,233.8 L239.7,232.2 L240.7,232.2 L241.6,232.2 L241.6,230.7 L242.5,230.7 L243.3,230.7 L243.3,229.7 L244.2,229.7 L245.1,229.7 L245.1,228.6 L245.9,228.6 L246.8,228.6 L246.8,227.6 L247.6,227.6 L248.5,227.6 L248.5,225.4 L249.4,225.4 L250.4,225.4 L250.4,223.2 L251.3,223.2 L252.2,223.2 L252.2,221.6 L253.2,221.6 L254.1,221.6 L254.1,220.0 L255.1,220.0 L255.9,220.0 L255.9,219.2 L256.8,219.2 L257.6,219.2 L257.6,218.3 L258.4,218.3 L259.3,218.3 L259.3,217.5 L260.1,217.5 L261.0,217.5 L261.0,216.2 L262.0,216.2 L262.9,216.2 L262.9,215.0 L263.8,215.0 L264.7,215.0 L264.7,213.4 L265.6,213.4 L266.6,213.4 L266.6,211.9 L267.5,211.9 L268.1,211.9 L268.1,209.2 L268.8,209.2 L269.4,209.2 L269.4,206.4 L270.0,206.4 L270.9,206.4 L270.9,205.2 L271.9,205.2 L272.9,205.2 L272.9,203.9 L273.8,203.9 L274.7,203.9 L274.7,202.6 L275.6,202.6 L276.6,202.6 L276.6,201.3 L277.5,201.3 L278.4,201.3 L278.4,200.7 L279.4,200.7 L280.4,200.7 L280.4,200.1 L281.3,200.1 L282.2,200.1 L282.2,199.8 L283.2,199.8 L284.2,199.8 L284.2,199.5 L285.1,199.5 L286.0,199.5 L286.0,198.8 L287.0,198.8 L287.9,198.8 L287.9,198.2 L288.8,198.2 L289.8,198.2 L289.8,197.6 L290.7,197.6 L291.7,197.6 L291.7,196.9 L292.6,196.9 L293.2,196.9 L293.2,196.6 L293.9,196.6 L294.5,196.6 L294.5,196.3 L295.1,196.3 L295.7,196.3 L295.7,195.4 L296.4,195.4 L297.0,195.4 L297.0,194.4 L297.6,194.4 L298.2,194.4 L298.2,193.8 L298.8,193.8 L299.4,193.8 L299.4,193.2 L300.0,193.2 L300.9,193.2 L300.9,192.2 L301.9,192.2 L302.9,192.2 L302.9,191.3 L303.8,191.3 L304.7,191.3 L304.7,190.1 L305.6,190.1 L306.6,190.1 L306.6,188.8 L307.5,188.8 L308.4,188.8 L308.4,186.6 L309.4,186.6 L310.4,186.6 L310.4,184.4 L311.3,184.4 L312.2,184.4 L312.2,182.9 L313.2,182.9 L314.2,182.9 L314.2,181.3 L315.1,181.3 L316.0,181.3 L316.0,180.1 L317.0,180.1 L317.9,180.1 L317.9,178.8 L318.8,178.8 L319.8,178.8 L319.8,178.2 L320.7,178.2 L321.7,178.2 L321.7,177.5 L322.6,177.5 L323.6,177.5 L323.6,177.2 L324.5,177.2 L325.4,177.2 L325.4,176.9 L326.4,176.9 L327.3,176.9 L327.3,176.0 L328.2,176.0 L329.1,176.0 L329.1,175.1 L330.0,175.1 L330.9,175.1 L330.9,172.6 L331.9,172.6 L332.9,172.6 L332.9,170.1 L333.8,170.1 L334.7,170.1 L334.7,168.8 L335.6,168.8 L336.6,168.8 L336.6,167.6 L337.5,167.6 L338.4,167.6 L338.4,166.6 L339.4,166.6 L340.4,166.6 L340.4,165.7 L341.3,165.7 L342.2,165.7 L342.2,164.8 L343.2,164.8 L344.2,164.8 L344.2,163.8 L345.1,163.8 L346.0,163.8 L346.0,162.9 L347.0,162.9 L347.9,162.9 L347.9,161.9 L348.8,161.9 L349.8,161.9 L349.8,160.7 L350.7,160.7 L351.7,160.7 L351.7,159.4 L352.6,159.4 L353.6,159.4 L353.6,158.4 L354.5,158.4 L355.4,158.4 L355.4,157.5 L356.4,157.5 L357.3,157.5 L357.3,156.9 L358.2,156.9 L359.1,156.9 L359.1,156.3 L360.0,156.3 L361.0,156.3 L361.0,155.3 L362.0,155.3 L363.0,155.3 L363.0,154.3 L364.0,154.3 L365.0,154.3 L365.0,153.4 L366.0,153.4 L367.0,153.4 L367.0,152.4 L368.0,152.4 L369.0,152.4 L369.0,151.4 L370.0,151.4 L370.8,151.4 L370.8,150.1 L371.7,150.1 L372.5,150.1 L372.5,148.9 L373.3,148.9 L374.2,148.9 L374.2,147.6 L375.0,147.6 L375.9,147.6 L375.9,146.9 L376.9,146.9 L377.9,146.9 L377.9,146.3 L378.8,146.3 L379.7,146.3 L379.7,145.1 L380.6,145.1 L381.6,145.1 L381.6,143.8 L382.5,143.8 L383.4,143.8 L383.4,142.2 L384.4,142.2 L385.4,142.2 L385.4,140.6 L386.3,140.6 L386.9,140.6 L386.9,139.7 L387.6,139.7 L388.2,139.7 L388.2,138.8 L388.8,138.8 L389.6,138.8 L389.6,138.6 L390.5,138.6 L391.3,138.6 L391.3,138.3 L392.1,138.3 L393.0,138.3 L393.0,138.1 L393.8,138.1 L394.9,138.1 L394.9,137.5 L395.9,137.5 L397.0,137.5 L397.0,136.9 L398.0,136.9 L399.1,136.9 L399.1,136.3 L400.1,136.3 L400.9,136.3 L400.9,135.7 L401.7,135.7 L402.6,135.7 L402.6,135.1 L403.4,135.1 L404.2,135.1 L404.2,134.5 L405.0,134.5 L405.9,134.5 L405.9,133.8 L406.9,133.8 L407.9,133.8 L407.9,133.2 L408.8,133.2 L409.7,133.2 L409.7,132.2 L410.6,132.2 L411.6,132.2 L411.6,131.3 L412.5,131.3 L413.4,131.3 L413.4,130.1 L414.4,130.1 L415.4,130.1 L415.4,128.8 L416.3,128.8 L417.2,128.8 L417.2,128.2 L418.2,128.2 L419.2,128.2 L419.2,127.6 L420.1,127.6 L421.0,127.6 L421.0,126.7 L422.0,126.7 L422.9,126.7 L422.9,125.7 L423.8,125.7 L424.8,125.7 L424.8,124.8 L425.7,124.8 L426.7,124.8 L426.7,123.8 L427.6,123.8 L428.2,123.8 L428.2,122.5 L428.9,122.5 L429.5,122.5 L429.5,121.3 L430.1,121.3 L430.9,121.3 L430.9,120.3 L431.7,120.3 L432.6,120.3 L432.6,119.2 L433.4,119.2 L434.2,119.2 L434.2,118.2 L435.0,118.2 L435.9,118.2 L435.9,117.0 L436.9,117.0 L437.9,117.0 L437.9,115.7 L438.8,115.7 L439.7,115.7 L439.7,115.1 L440.6,115.1 L441.6,115.1 L441.6,114.5 L442.5,114.5 L443.4,114.5 L443.4,114.1 L444.2,114.1 L445.1,114.1 L445.1,113.6 L445.9,113.6 L446.8,113.6 L446.8,113.2 L447.6,113.2 L448.7,113.2 L448.7,112.6 L449.8,112.6 L450.9,112.6 L450.9,112.0 L452.0,112.0 L453.0,112.0 L453.0,111.3 L454.0,111.3 L455.0,111.3 L455.0,110.7 L456.0,110.7 L457.0,110.7 L457.0,110.0 L458.0,110.0 L458.9,110.0 L458.9,109.4 L459.8,109.4 L460.6,109.4 L460.6,108.8 L461.5,108.8 L462.4,108.8 L462.4,108.1 L463.2,108.1 L464.1,108.1 L464.1,107.5 L465.0,107.5 L465.9,107.5 L465.9,106.2 L466.8,106.2 L467.6,106.2 L467.6,105.0 L468.5,105.0 L469.4,105.0 L469.4,103.8 L470.2,103.8 L471.1,103.8 L471.1,102.5 L472.0,102.5 L473.1,102.5 L473.1,101.6 L474.2,101.6 L475.3,101.6 L475.3,100.7 L476.4,100.7 L477.4,100.7 L477.4,99.8 L478.5,99.8 L479.6,99.8 L479.6,98.9 L480.7,98.9 L481.5,98.9 L481.5,98.2 L482.2,98.2 L483.0,98.2 L483.0,97.6 L483.8,97.6 L484.6,97.6 L484.6,96.8 L485.5,96.8 L486.4,96.8 L486.4,95.9 L487.2,95.9 L488.0,95.9 L488.0,95.1 L488.9,95.1 L489.8,95.1 L489.8,94.5 L490.8,94.5 L491.7,94.5 L491.7,93.9 L492.6,93.9 L493.2,93.9 L493.2,93.6 L493.8,93.6 L494.4,93.6 L494.4,93.2 L495.0,93.2 L496.1,93.2 L496.1,91.8 L497.1,91.8 L498.2,91.8 L498.2,90.4 L499.3,90.4 L500.4,90.4 L500.4,89.0 L501.4,89.0 L502.5,89.0 L502.5,87.6 L503.6,87.6 L504.6,87.6 L504.6,86.2 L505.7,86.2 L506.8,86.2 L506.8,84.8 L507.9,84.8 L508.9,84.8 L508.9,83.3 L510.0,83.3 L511.1,83.3 L511.1,81.9 L512.1,81.9 L513.2,81.9 L513.2,80.5 L514.3,80.5 L515.4,80.5 L515.4,79.1 L516.4,79.1 L517.5,79.1 L517.5,77.7 L518.6,77.7 L519.6,77.7 L519.6,76.3 L520.7,76.3 L521.8,76.3 L521.8,74.9 L522.9,74.9 L523.9,74.9 L523.9,73.5 L525.0,73.5 L525.9,73.5 L525.9,72.9 L526.8,72.9 L527.6,72.9 L527.6,72.2 L528.5,72.2 L529.4,72.2 L529.4,71.6 L530.2,71.6 L531.1,71.6 L531.1,71.0 L532.0,71.0 L533.0,71.0 L533.0,70.3 L534.0,70.3 L535.0,70.3 L535.0,69.7 L536.0,69.7 L537.0,69.7 L537.0,69.1 L538.0,69.1 L539.0,69.1 L539.0,68.4 L540.0,68.4 L540.8,68.4 L540.8,67.6 L541.7,67.6 L542.5,67.6 L542.5,66.7 L543.3,66.7 L544.2,66.7 L544.2,65.9 L545.0,65.9 L545.8,65.9 L545.8,65.3 L546.7,65.3 L547.5,65.3 L547.5,64.8 L548.3,64.8 L549.2,64.8 L549.2,64.2 L550.0,64.2 L550.9,64.2 L550.9,63.6 L551.7,63.6 L552.5,63.6 L552.5,63.1 L553.4,63.1 L554.2,63.1 L554.2,62.5 L555.1,62.5 L555.9,62.5 L555.9,61.7 L556.8,61.7 L557.6,61.7 L557.6,60.8 L558.4,60.8 L559.3,60.8 L559.3,60.0 L560.1,60.0 L560.9,60.0 L560.9,59.2 L561.8,59.2 L562.6,59.2 L562.6,58.3 L563.4,58.3 L564.3,58.3 L564.3,57.5 L565.1,57.5 L565.7,57.5 L565.7,56.6 L566.4,56.6 L567.0,56.6 L567.0,55.7 L567.6,55.7 L568.4,55.7 L568.4,55.5 L569.3,55.5 L570.1,55.5 L570.1,55.3 L570.9,55.3 L571.8,55.3 L571.8,55.1 L572.6,55.1 L573.4,55.1 L573.4,53.8 L574.3,53.8 L575.1,53.8 L575.1,52.6 L575.9,52.6 L576.8,52.6 L576.8,51.3 L577.6,51.3 L578.5,51.3 L578.5,50.7 L579.5,50.7 L580.5,50.7 L580.5,50.1 L581.4,50.1 L582.3,50.1 L582.3,49.5 L583.2,49.5 L584.1,49.5 L584.1,48.8 L585.0,48.8 L585.8,48.8 L585.8,47.9 L586.7,47.9 L587.5,47.9 L587.5,46.9 L588.3,46.9 L589.2,46.9 L589.2,46.0 L590.0,46.0 L590.8,46.0 L590.8,44.9 L591.7,44.9 L592.5,44.9 L592.5,43.7 L593.3,43.7 L594.2,43.7 L594.2,42.6 L595.0,42.6 L596.0,42.6 L596.0,41.7 L596.9,41.7 L597.8,41.7 L597.8,40.7 L598.8,40.7 L599.8,40.7 L599.8,40.1 L600.9,40.1 L602.0,40.1 L602.0,39.5 L603.0,39.5 L603.8,39.5 L603.8,39.1 L604.5,39.1 L605.3,39.1 L605.3,38.6 L606.1,38.6 L606.8,38.6 L606.8,38.2 L607.6,38.2 L608.6,38.2 L608.6,37.2 L609.7,37.2 L610.7,37.2 L610.7,36.1 L611.8,36.1 L612.8,36.1 L612.8,35.1 L613.8,35.1 L614.9,35.1 L614.9,34.0 L615.9,34.0 L617.0,34.0 L617.0,33.0 L618.0,33.0 L618.8,33.0 L618.8,32.8 L619.6,32.8 L620.5,32.8 L620.5,32.5 L621.3,32.5 L622.1,32.5 L622.1,32.2 L623.0,32.2 L623.8,32.2 L623.8,32.0 L624.6,32.0 L625.6,32.0 L625.6,31.3 L626.7,31.3 L627.7,31.3 L627.7,30.6 L628.8,30.6 L629.8,30.6 L629.8,29.9 L630.8,29.9 L631.9,29.9 L631.9,29.2 L632.9,29.2 L634.0,29.2 L634.0,28.5 L635.0,28.5 L636.0,28.5 L636.0,27.7 L637.0,27.7 L638.0,27.7 L638.0,26.9 L639.0,26.9 L640.0,26.9 L640.0,26.1 L641.0,26.1 L642.0,26.1 L642.0,25.3 L643.0,25.3 L644.0,25.3 L644.0,24.5 L645.0,24.5 L646.1,24.5 L646.1,23.7 L647.2,23.7 L648.3,23.7 L648.3,22.8 L649.4,22.8 L650.5,22.8 L650.5,22.0 L651.6,22.0 L652.7,22.0 L652.7,21.1 L653.8,21.1 L654.9,21.1 L654.9,20.3 L656.0,20.3" fill="none" stroke="#42B540" stroke-width="3" stroke-linejoin="round" stroke-linecap="round"/>
<path d="M97.5,364.0 L98.2,364.0 L98.2,358.6 L98.8,358.6 L99.4,358.6 L99.4,357.6 L100.0,357.6 L100.7,357.6 L100.7,356.7 L101.3,356.7 L102.0,356.7 L102.0,355.4 L102.7,355.4 L103.3,355.4 L103.3,354.1 L104.0,354.1 L104.8,354.1 L104.8,352.9 L105.5,352.9 L106.2,352.9 L106.2,351.7 L107.0,351.7 L107.8,351.7 L107.8,351.3 L108.5,351.3 L109.2,351.3 L109.2,350.9 L110.0,350.9 L110.8,350.9 L110.8,350.4 L111.5,350.4 L112.2,350.4 L112.2,350.0 L113.0,350.0 L113.8,350.0 L113.8,348.9 L114.5,348.9 L115.2,348.9 L115.2,347.7 L116.0,347.7 L116.8,347.7 L116.8,346.4 L117.5,346.4 L118.2,346.4 L118.2,345.2 L119.0,345.2 L119.8,345.2 L119.8,343.4 L120.5,343.4 L121.2,343.4 L121.2,341.6 L122.0,341.6 L122.8,341.6 L122.8,340.1 L123.5,340.1 L124.2,340.1 L124.2,338.5 L125.0,338.5 L125.8,338.5 L125.8,337.1 L126.5,337.1 L127.2,337.1 L127.2,335.8 L128.0,335.8 L128.8,335.8 L128.8,334.6 L129.5,334.6 L130.2,334.6 L130.2,333.4 L131.0,333.4 L131.8,333.4 L131.8,332.6 L132.5,332.6 L133.2,332.6 L133.2,331.9 L134.0,331.9 L134.8,331.9 L134.8,331.2 L135.5,331.2 L136.2,331.2 L136.2,330.5 L137.0,330.5 L137.8,330.5 L137.8,329.4 L138.5,329.4 L139.2,329.4 L139.2,328.3 L140.0,328.3 L140.8,328.3 L140.8,327.0 L141.5,327.0 L142.2,327.0 L142.2,325.6 L143.0,325.6 L143.8,325.6 L143.8,324.6 L144.5,324.6 L145.2,324.6 L145.2,323.7 L146.0,323.7 L146.8,323.7 L146.8,323.0 L147.5,323.0 L148.2,323.0 L148.2,322.4 L149.0,322.4 L150.1,322.4 L150.1,321.3 L151.1,321.3 L152.1,321.3 L152.1,320.3 L153.2,320.3 L154.2,320.3 L154.2,319.2 L155.3,319.2 L156.4,319.2 L156.4,318.2 L157.4,318.2 L158.4,318.2 L158.4,316.7 L159.3,316.7 L160.2,316.7 L160.2,315.3 L161.2,315.3 L162.1,315.3 L162.1,313.8 L163.1,313.8 L164.0,313.8 L164.0,312.9 L164.9,312.9 L165.9,312.9 L165.9,311.9 L166.8,311.9 L167.8,311.9 L167.8,310.0 L168.7,310.0 L169.6,310.0 L169.6,308.2 L170.6,308.2 L171.6,308.2 L171.6,306.9 L172.5,306.9 L173.4,306.9 L173.4,305.7 L174.4,305.7 L175.3,305.7 L175.3,304.1 L176.2,304.1 L177.1,304.1 L177.1,302.5 L178.0,302.5 L178.9,302.5 L178.9,301.5 L179.8,301.5 L180.6,301.5 L180.6,300.5 L181.5,300.5 L182.4,300.5 L182.4,299.5 L183.2,299.5 L184.1,299.5 L184.1,298.5 L185.0,298.5 L185.9,298.5 L185.9,296.6 L186.8,296.6 L187.6,296.6 L187.6,294.8 L188.5,294.8 L189.4,294.8 L189.4,292.9 L190.2,292.9 L191.1,292.9 L191.1,291.0 L192.0,291.0 L192.9,291.0 L192.9,289.4 L193.9,289.4 L194.8,289.4 L194.8,287.9 L195.7,287.9 L196.7,287.9 L196.7,286.3 L197.6,286.3 L198.6,286.3 L198.6,285.4 L199.5,285.4 L200.4,285.4 L200.4,284.4 L201.4,284.4 L202.3,284.4 L202.3,282.5 L203.2,282.5 L204.1,282.5 L204.1,280.6 L205.0,280.6 L205.8,280.6 L205.8,279.7 L206.7,279.7 L207.5,279.7 L207.5,278.9 L208.3,278.9 L209.2,278.9 L209.2,278.0 L210.0,278.0 L210.9,278.0 L210.9,277.4 L211.9,277.4 L212.9,277.4 L212.9,276.9 L213.8,276.9 L214.8,276.9 L214.8,276.3 L215.7,276.3 L216.6,276.3 L216.6,275.7 L217.6,275.7 L218.4,275.7 L218.4,274.5 L219.3,274.5 L220.1,274.5 L220.1,273.2 L220.9,273.2 L221.8,273.2 L221.8,272.0 L222.6,272.0 L223.4,272.0 L223.4,270.5 L224.3,270.5 L225.1,270.5 L225.1,269.1 L225.9,269.1 L226.8,269.1 L226.8,267.6 L227.6,267.6 L228.6,267.6 L228.6,265.7 L229.5,265.7 L230.4,265.7 L230.4,263.8 L231.4,263.8 L232.3,263.8 L232.3,261.7 L233.2,261.7 L234.2,261.7 L234.2,259.7 L235.1,259.7 L236.0,259.7 L236.0,257.6 L236.9,257.6 L237.7,257.6 L237.7,256.4 L238.4,256.4 L239.2,256.4 L239.2,255.1 L240.0,255.1 L240.9,255.1 L240.9,253.8 L241.9,253.8 L242.9,253.8 L242.9,252.6 L243.8,252.6 L244.8,252.6 L244.8,251.3 L245.7,251.3 L246.6,251.3 L246.6,250.0 L247.6,250.0 L248.2,250.0 L248.2,248.8 L248.8,248.8 L249.5,248.8 L249.5,247.5 L250.1,247.5 L251.1,247.5 L251.1,245.6 L252.0,245.6 L253.0,245.6 L253.0,243.9 L254.0,243.9 L255.0,243.9 L255.0,242.2 L256.0,242.2 L257.0,242.2 L257.0,240.5 L258.0,240.5 L259.0,240.5 L259.0,239.3 L260.0,239.3 L261.0,239.3 L261.0,238.2 L262.0,238.2 L263.0,238.2 L263.0,237.0 L264.0,237.0 L264.9,237.0 L264.9,234.5 L265.8,234.5 L266.6,234.5 L266.6,232.0 L267.5,232.0 L268.4,232.0 L268.4,231.1 L269.4,231.1 L270.4,231.1 L270.4,230.1 L271.3,230.1 L272.1,230.1 L272.1,228.7 L272.9,228.7 L273.6,228.7 L273.6,227.4 L274.4,227.4 L275.2,227.4 L275.2,226.0 L276.0,226.0 L276.9,226.0 L276.9,223.8 L277.8,223.8 L278.6,223.8 L278.6,221.6 L279.5,221.6 L280.4,221.6 L280.4,219.4 L281.3,219.4 L282.0,219.4 L282.0,216.9 L282.6,216.9 L283.2,216.9 L283.2,214.4 L283.9,214.4 L284.5,214.4 L284.5,213.2 L285.1,213.2 L286.2,213.2 L286.2,211.5 L287.2,211.5 L288.3,211.5 L288.3,209.7 L289.4,209.7 L290.4,209.7 L290.4,208.0 L291.5,208.0 L292.6,208.0 L292.6,206.2 L293.6,206.2 L294.7,206.2 L294.7,204.5 L295.7,204.5 L296.8,204.5 L296.8,202.7 L297.9,202.7 L298.9,202.7 L298.9,201.0 L300.0,201.0 L301.0,201.0 L301.0,200.0 L302.0,200.0 L303.0,200.0 L303.0,199.0 L304.0,199.0 L305.0,199.0 L305.0,198.0 L306.0,198.0 L307.0,198.0 L307.0,197.0 L308.0,197.0 L308.9,197.0 L308.9,196.1 L309.8,196.1 L310.7,196.1 L310.7,195.1 L311.6,195.1 L312.4,195.1 L312.4,194.1 L313.3,194.1 L314.2,194.1 L314.2,193.2 L315.1,193.2 L316.0,193.2 L316.0,191.9 L317.0,191.9 L317.9,191.9 L317.9,190.7 L318.8,190.7 L319.8,190.7 L319.8,190.1 L320.7,190.1 L321.7,190.1 L321.7,189.4 L322.6,189.4 L323.6,189.4 L323.6,188.5 L324.5,188.5 L325.4,188.5 L325.4,187.6 L326.4,187.6 L327.3,187.6 L327.3,185.4 L328.2,185.4 L329.1,185.4 L329.1,183.2 L330.0,183.2 L330.6,183.2 L330.6,181.3 L331.2,181.3 L331.9,181.3 L331.9,179.5 L332.5,179.5 L333.4,179.5 L333.4,177.6 L334.4,177.6 L335.4,177.6 L335.4,175.7 L336.3,175.7 L337.2,175.7 L337.2,174.8 L338.1,174.8 L339.1,174.8 L339.1,173.8 L340.0,173.8 L340.9,173.8 L340.9,172.9 L341.9,172.9 L342.9,172.9 L342.9,171.9 L343.8,171.9 L344.7,171.9 L344.7,171.6 L345.6,171.6 L346.6,171.6 L346.6,171.3 L347.5,171.3 L348.4,171.3 L348.4,170.7 L349.4,170.7 L350.4,170.7 L350.4,170.0 L351.3,170.0 L352.2,170.0 L352.2,169.4 L353.2,169.4 L354.2,169.4 L354.2,168.8 L355.1,168.8 L356.0,168.8 L356.0,168.2 L357.0,168.2 L357.9,168.2 L357.9,167.5 L358.8,167.5 L359.8,167.5 L359.8,166.9 L360.7,166.9 L361.7,166.9 L361.7,166.3 L362.6,166.3 L363.5,166.3 L363.5,165.4 L364.3,165.4 L365.1,165.4 L365.1,164.5 L366.0,164.5 L367.0,164.5 L367.0,163.5 L368.0,163.5 L369.0,163.5 L369.0,162.5 L370.0,162.5 L370.8,162.5 L370.8,161.5 L371.7,161.5 L372.5,161.5 L372.5,160.5 L373.3,160.5 L374.2,160.5 L374.2,159.5 L375.0,159.5 L376.0,159.5 L376.0,159.1 L377.0,159.1 L378.0,159.1 L378.0,158.7 L379.0,158.7 L380.0,158.7 L380.0,158.3 L381.0,158.3 L382.0,158.3 L382.0,157.9 L383.0,157.9 L384.0,157.9 L384.0,157.5 L385.0,157.5 L386.1,157.5 L386.1,156.5 L387.2,156.5 L388.3,156.5 L388.3,155.5 L389.4,155.5 L390.5,155.5 L390.5,154.5 L391.6,154.5 L392.7,154.5 L392.7,153.5 L393.8,153.5 L394.9,153.5 L394.9,152.5 L396.0,152.5 L397.0,152.5 L397.0,151.8 L398.0,151.8 L399.0,151.8 L399.0,151.0 L400.0,151.0 L400.8,151.0 L400.8,148.3 L401.7,148.3 L402.5,148.3 L402.5,145.7 L403.3,145.7 L404.2,145.7 L404.2,143.0 L405.0,143.0 L406.1,143.0 L406.1,141.6 L407.1,141.6 L408.1,141.6 L408.1,140.3 L409.2,140.3 L410.2,140.3 L410.2,138.9 L411.3,138.9 L412.4,138.9 L412.4,137.2 L413.4,137.2 L414.5,137.2 L414.5,135.6 L415.5,135.6 L416.6,135.6 L416.6,133.9 L417.6,133.9 L418.6,133.9 L418.6,132.8 L419.7,132.8 L420.7,132.8 L420.7,131.8 L421.7,131.8 L422.8,131.8 L422.8,130.7 L423.8,130.7 L424.9,130.7 L424.9,129.7 L425.9,129.7 L427.0,129.7 L427.0,128.6 L428.0,128.6 L429.1,128.6 L429.1,127.6 L430.1,127.6 L430.9,127.6 L430.9,127.0 L431.7,127.0 L432.6,127.0 L432.6,126.3 L433.4,126.3 L434.2,126.3 L434.2,125.7 L435.0,125.7 L435.9,125.7 L435.9,124.8 L436.8,124.8 L437.6,124.8 L437.6,123.8 L438.5,123.8 L439.4,123.8 L439.4,122.9 L440.2,122.9 L441.1,122.9 L441.1,122.0 L442.0,122.0 L443.0,122.0 L443.0,121.2 L444.0,121.2 L445.0,121.2 L445.0,120.5 L446.1,120.5 L447.1,120.5 L447.1,119.7 L448.1,119.7 L449.1,119.7 L449.1,118.9 L450.1,118.9 L451.0,118.9 L451.0,117.7 L452.0,117.7 L452.9,117.7 L452.9,116.4 L453.8,116.4 L454.8,116.4 L454.8,115.5 L455.7,115.5 L456.7,115.5 L456.7,114.5 L457.6,114.5 L458.2,114.5 L458.2,112.9 L458.9,112.9 L459.5,112.9 L459.5,111.3 L460.1,111.3 L460.7,111.3 L460.7,110.0 L461.4,110.0 L462.0,110.0 L462.0,108.8 L462.6,108.8 L463.2,108.8 L463.2,108.2 L463.8,108.2 L464.4,108.2 L464.4,107.6 L465.0,107.6 L465.9,107.6 L465.9,103.2 L466.9,103.2 L467.9,103.2 L467.9,98.9 L468.8,98.9 L469.7,98.9 L469.7,98.2 L470.6,98.2 L471.6,98.2 L471.6,97.6 L472.5,97.6 L473.6,97.6 L473.6,97.2 L474.7,97.2 L475.8,97.2 L475.8,96.9 L476.8,96.9 L477.9,96.9 L477.9,96.5 L479.0,96.5 L479.8,96.5 L479.8,96.2 L480.7,96.2 L481.5,96.2 L481.5,95.8 L482.4,95.8 L483.2,95.8 L483.2,95.4 L484.0,95.4 L484.9,95.4 L484.9,95.1 L485.7,95.1 L486.6,95.1 L486.6,93.4 L487.6,93.4 L488.5,93.4 L488.5,91.8 L489.5,91.8 L490.4,91.8 L490.4,90.1 L491.4,90.1 L492.3,90.1 L492.3,90.1 L493.2,90.1 L494.1,90.1 L494.1,90.1 L495.0,90.1 L495.8,90.1 L495.8,88.8 L496.7,88.8 L497.5,88.8 L497.5,87.6 L498.3,87.6 L499.2,87.6 L499.2,86.3 L500.0,86.3 L500.9,86.3 L500.9,86.0 L501.9,86.0 L502.9,86.0 L502.9,85.7 L503.8,85.7 L504.7,85.7 L504.7,84.8 L505.6,84.8 L506.6,84.8 L506.6,83.8 L507.5,83.8 L508.4,83.8 L508.4,83.1 L509.4,83.1 L510.3,83.1 L510.3,82.4 L511.2,82.4 L512.2,82.4 L512.2,81.7 L513.1,81.7 L514.1,81.7 L514.1,81.0 L515.0,81.0 L516.0,81.0 L516.0,80.5 L516.9,80.5 L517.8,80.5 L517.8,79.9 L518.8,79.9 L519.8,79.9 L519.8,79.3 L520.7,79.3 L521.7,79.3 L521.7,78.8 L522.6,78.8 L523.5,78.8 L523.5,77.8 L524.5,77.8 L525.5,77.8 L525.5,76.9 L526.4,76.9 L527.3,76.9 L527.3,76.6 L528.2,76.6 L529.1,76.6 L529.1,76.3 L530.0,76.3 L531.0,76.3 L531.0,75.8 L531.9,75.8 L532.8,75.8 L532.8,75.4 L533.8,75.4 L534.8,75.4 L534.8,75.0 L535.7,75.0 L536.7,75.0 L536.7,74.5 L537.6,74.5 L538.5,74.5 L538.5,73.9 L539.5,73.9 L540.4,73.9 L540.4,73.2 L541.3,73.2 L542.2,73.2 L542.2,72.6 L543.1,72.6 L544.1,72.6 L544.1,72.0 L545.0,72.0 L546.0,72.0 L546.0,71.1 L547.0,71.1 L548.0,71.1 L548.0,70.2 L549.0,70.2 L550.0,70.2 L550.0,69.3 L551.0,69.3 L552.0,69.3 L552.0,68.4 L553.0,68.4 L554.0,68.4 L554.0,67.5 L555.0,67.5 L555.9,67.5 L555.9,66.2 L556.8,66.2 L557.6,66.2 L557.6,65.0 L558.5,65.0 L559.4,65.0 L559.4,63.8 L560.2,63.8 L561.1,63.8 L561.1,62.5 L562.0,62.5 L563.0,62.5 L563.0,61.7 L564.0,61.7 L565.0,61.7 L565.0,60.8 L566.0,60.8 L567.0,60.8 L567.0,60.0 L568.0,60.0 L569.0,60.0 L569.0,59.2 L569.9,59.2 L570.9,59.2 L570.9,58.4 L571.9,58.4 L572.8,58.4 L572.8,57.6 L573.8,57.6 L574.8,57.6 L574.8,56.4 L575.7,56.4 L576.7,56.4 L576.7,55.1 L577.6,55.1 L578.5,55.1 L578.5,52.9 L579.5,52.9 L580.5,52.9 L580.5,50.7 L581.4,50.7 L582.3,50.7 L582.3,49.6 L583.2,49.6 L584.1,49.6 L584.1,48.5 L585.0,48.5 L585.8,48.5 L585.8,47.7 L586.7,47.7 L587.5,47.7 L587.5,46.8 L588.3,46.8 L589.2,46.8 L589.2,46.0 L590.0,46.0 L591.1,46.0 L591.1,45.0 L592.2,45.0 L593.3,45.0 L593.3,44.0 L594.4,44.0 L595.5,44.0 L595.5,42.9 L596.6,42.9 L597.7,42.9 L597.7,41.9 L598.8,41.9 L599.7,41.9 L599.7,40.6 L600.6,40.6 L601.6,40.6 L601.6,39.4 L602.5,39.4 L603.4,39.4 L603.4,38.6 L604.2,38.6 L605.0,38.6 L605.0,37.7 L605.9,37.7 L606.8,37.7 L606.8,36.9 L607.6,36.9 L608.4,36.9 L608.4,36.1 L609.3,36.1 L610.1,36.1 L610.1,35.2 L610.9,35.2 L611.8,35.2 L611.8,34.4 L612.6,34.4 L613.5,34.4 L613.5,33.5 L614.5,33.5 L615.4,33.5 L615.4,32.5 L616.3,32.5 L617.2,32.5 L617.2,31.9 L618.2,31.9 L619.2,31.9 L619.2,31.3 L620.1,31.3 L620.9,31.3 L620.9,30.8 L621.7,30.8 L622.5,30.8 L622.5,30.3 L623.4,30.3 L624.2,30.3 L624.2,29.8 L625.0,29.8 L626.0,29.8 L626.0,28.9 L626.9,28.9 L627.9,28.9 L627.9,28.0 L628.9,28.0 L629.8,28.0 L629.8,27.1 L630.8,27.1 L631.8,27.1 L631.8,26.5 L632.9,26.5 L634.0,26.5 L634.0,25.8 L635.0,25.8 L636.0,25.8 L636.0,25.2 L637.1,25.2 L637.9,25.2 L637.9,24.8 L638.7,24.8 L639.5,24.8 L639.5,24.4 L640.4,24.4 L641.2,24.4 L641.2,24.0 L642.0,24.0 L643.0,24.0 L643.0,23.5 L644.0,23.5 L645.0,23.5 L645.0,22.9 L646.0,22.9 L647.0,22.9 L647.0,22.4 L648.0,22.4 L649.0,22.4 L649.0,21.9 L650.0,21.9 L651.0,21.9 L651.0,21.4 L652.0,21.4 L653.0,21.4 L653.0,20.8 L654.0,20.8 L655.0,20.8 L655.0,20.3 L656.0,20.3" fill="none" stroke="#0099B4" stroke-width="3" stroke-linejoin="round" stroke-linecap="round"/>
<path d="M97.5,364.0 L98.6,364.0 L98.6,363.6 L99.7,363.6 L100.8,363.6 L100.8,363.2 L101.8,363.2 L102.9,363.2 L102.9,362.8 L104.0,362.8 L104.8,362.8 L104.8,361.6 L105.6,361.6 L106.4,361.6 L106.4,360.5 L107.2,360.5 L108.0,360.5 L108.0,359.3 L108.8,359.3 L109.8,359.3 L109.8,357.4 L110.7,357.4 L111.6,357.4 L111.6,355.5 L112.6,355.5 L113.5,355.5 L113.5,353.0 L114.4,353.0 L115.4,353.0 L115.4,350.5 L116.3,350.5 L117.2,350.5 L117.2,349.0 L118.2,349.0 L119.1,349.0 L119.1,347.5 L120.1,347.5 L120.9,347.5 L120.9,346.7 L121.7,346.7 L122.5,346.7 L122.5,345.8 L123.4,345.8 L124.2,345.8 L124.2,345.0 L125.0,345.0 L125.9,345.0 L125.9,343.8 L126.9,343.8 L127.8,343.8 L127.8,342.7 L128.7,342.7 L129.7,342.7 L129.7,341.5 L130.6,341.5 L131.4,341.5 L131.4,340.5 L132.3,340.5 L133.1,340.5 L133.1,339.4 L133.9,339.4 L134.8,339.4 L134.8,338.4 L135.6,338.4 L136.5,338.4 L136.5,336.8 L137.4,336.8 L138.4,336.8 L138.4,335.2 L139.3,335.2 L140.2,335.2 L140.2,333.0 L141.2,333.0 L142.1,333.0 L142.1,330.8 L143.1,330.8 L143.9,330.8 L143.9,329.9 L144.6,329.9 L145.4,329.9 L145.4,328.9 L146.2,328.9 L147.1,328.9 L147.1,328.3 L148.0,328.3 L149.1,328.3 L149.1,326.8 L150.1,326.8 L151.2,326.8 L151.2,325.4 L152.2,325.4 L153.2,325.4 L153.2,323.9 L154.3,323.9 L155.2,323.9 L155.2,323.3 L156.2,323.3 L157.2,323.3 L157.2,322.6 L158.1,322.6 L159.1,322.6 L159.1,322.0 L160.0,322.0 L160.8,322.0 L160.8,321.4 L161.7,321.4 L162.6,321.4 L162.6,320.8 L163.4,320.8 L164.2,320.8 L164.2,320.1 L165.1,320.1 L166.0,320.1 L166.0,319.5 L166.8,319.5 L167.8,319.5 L167.8,318.6 L168.7,318.6 L169.6,318.6 L169.6,317.6 L170.6,317.6 L171.6,317.6 L171.6,316.1 L172.5,316.1 L173.4,316.1 L173.4,314.5 L174.4,314.5 L175.3,314.5 L175.3,313.2 L176.2,313.2 L177.1,313.2 L177.1,312.0 L178.0,312.0 L179.0,312.0 L179.0,309.2 L180.0,309.2 L181.0,309.2 L181.0,306.5 L182.0,306.5 L182.8,306.5 L182.8,305.0 L183.7,305.0 L184.5,305.0 L184.5,303.5 L185.3,303.5 L186.2,303.5 L186.2,302.0 L187.0,302.0 L187.9,302.0 L187.9,300.3 L188.9,300.3 L189.8,300.3 L189.8,298.7 L190.7,298.7 L191.7,298.7 L191.7,297.0 L192.6,297.0 L193.2,297.0 L193.2,296.4 L193.8,296.4 L194.5,296.4 L194.5,295.7 L195.1,295.7 L195.7,295.7 L195.7,294.4 L196.3,294.4 L197.0,294.4 L197.0,293.2 L197.6,293.2 L198.2,293.2 L198.2,292.6 L198.8,292.6 L199.4,292.6 L199.4,292.0 L200.0,292.0 L200.9,292.0 L200.9,290.1 L201.8,290.1 L202.7,290.1 L202.7,288.2 L203.6,288.2 L204.5,288.2 L204.5,286.3 L205.4,286.3 L206.3,286.3 L206.3,284.4 L207.2,284.4 L208.1,284.4 L208.1,282.5 L209.0,282.5 L210.0,282.5 L210.0,281.3 L211.0,281.3 L212.0,281.3 L212.0,280.1 L213.0,280.1 L214.0,280.1 L214.0,278.9 L215.0,278.9 L215.9,278.9 L215.9,277.6 L216.9,277.6 L217.9,277.6 L217.9,276.4 L218.8,276.4 L219.8,276.4 L219.8,275.1 L220.7,275.1 L221.6,275.1 L221.6,273.9 L222.6,273.9 L223.5,273.9 L223.5,272.3 L224.4,272.3 L225.4,272.3 L225.4,270.7 L226.3,270.7 L227.2,270.7 L227.2,269.1 L228.2,269.1 L229.1,269.1 L229.1,267.6 L230.1,267.6 L230.7,267.6 L230.7,265.7 L231.3,265.7 L232.0,265.7 L232.0,263.8 L232.6,263.8 L233.2,263.8 L233.2,262.6 L233.8,262.6 L234.4,262.6 L234.4,261.3 L235.0,261.3 L235.6,261.3 L235.6,260.1 L236.2,260.1 L236.9,260.1 L236.9,258.8 L237.5,258.8 L238.4,258.8 L238.4,257.9 L239.4,257.9 L240.4,257.9 L240.4,256.9 L241.3,256.9 L242.2,256.9 L242.2,255.6 L243.2,255.6 L244.1,255.6 L244.1,254.4 L245.0,254.4 L245.9,254.4 L245.9,252.2 L246.8,252.2 L247.6,252.2 L247.6,250.0 L248.5,250.0 L249.5,250.0 L249.5,247.5 L250.6,247.5 L251.6,247.5 L251.6,245.0 L252.6,245.0 L253.4,245.0 L253.4,244.0 L254.3,244.0 L255.2,244.0 L255.2,243.0 L256.0,243.0 L257.0,243.0 L257.0,241.8 L258.1,241.8 L259.1,241.8 L259.1,240.6 L260.1,240.6 L261.1,240.6 L261.1,239.1 L262.1,239.1 L263.1,239.1 L263.1,237.5 L264.0,237.5 L265.0,237.5 L265.0,236.0 L266.0,236.0 L266.9,236.0 L266.9,234.5 L267.8,234.5 L268.6,234.5 L268.6,232.9 L269.5,232.9 L270.4,232.9 L270.4,231.4 L271.3,231.4 L272.1,231.4 L272.1,230.1 L273.0,230.1 L273.8,230.1 L273.8,228.9 L274.6,228.9 L275.5,228.9 L275.5,227.6 L276.3,227.6 L277.2,227.6 L277.2,226.3 L278.2,226.3 L279.2,226.3 L279.2,225.1 L280.1,225.1 L280.9,225.1 L280.9,223.8 L281.8,223.8 L282.6,223.8 L282.6,222.6 L283.4,222.6 L284.3,222.6 L284.3,221.3 L285.1,221.3 L285.7,221.3 L285.7,220.1 L286.4,220.1 L287.0,220.1 L287.0,218.8 L287.6,218.8 L288.2,218.8 L288.2,218.7 L288.8,218.7 L289.4,218.7 L289.4,218.5 L290.0,218.5 L290.6,218.5 L290.6,217.4 L291.3,217.4 L292.0,217.4 L292.0,216.4 L292.6,216.4 L293.2,216.4 L293.2,216.7 L293.8,216.7 L294.4,216.7 L294.4,217.0 L295.0,217.0 L295.9,217.0 L295.9,216.1 L296.9,216.1 L297.9,216.1 L297.9,215.1 L298.8,215.1 L299.7,215.1 L299.7,214.1 L300.6,214.1 L301.6,214.1 L301.6,213.2 L302.5,213.2 L303.4,213.2 L303.4,211.9 L304.4,211.9 L305.4,211.9 L305.4,210.7 L306.3,210.7 L307.2,210.7 L307.2,209.4 L308.2,209.4 L309.2,209.4 L309.2,208.2 L310.1,208.2 L310.7,208.2 L310.7,206.6 L311.4,206.6 L312.0,206.6 L312.0,205.0 L312.6,205.0 L313.2,205.0 L313.2,203.8 L313.9,203.8 L314.5,203.8 L314.5,202.5 L315.1,202.5 L316.1,202.5 L316.1,202.2 L317.0,202.2 L317.9,202.2 L317.9,201.9 L318.9,201.9 L319.8,201.9 L319.8,200.9 L320.8,200.9 L321.7,200.9 L321.7,200.0 L322.6,200.0 L323.2,200.0 L323.2,199.7 L323.8,199.7 L324.4,199.7 L324.4,199.4 L325.0,199.4 L325.9,199.4 L325.9,197.2 L326.9,197.2 L327.9,197.2 L327.9,195.0 L328.8,195.0 L329.7,195.0 L329.7,194.1 L330.6,194.1 L331.6,194.1 L331.6,193.2 L332.5,193.2 L333.4,193.2 L333.4,192.6 L334.4,192.6 L335.4,192.6 L335.4,191.9 L336.3,191.9 L337.2,191.9 L337.2,190.9 L338.2,190.9 L339.2,190.9 L339.2,190.0 L340.1,190.0 L341.0,190.0 L341.0,189.4 L342.0,189.4 L342.9,189.4 L342.9,188.8 L343.8,188.8 L344.8,188.8 L344.8,188.2 L345.7,188.2 L346.7,188.2 L346.7,187.5 L347.6,187.5 L348.2,187.5 L348.2,185.3 L348.8,185.3 L349.4,185.3 L349.4,183.2 L350.0,183.2 L350.9,183.2 L350.9,181.9 L351.9,181.9 L352.9,181.9 L352.9,180.7 L353.8,180.7 L354.8,180.7 L354.8,180.4 L355.7,180.4 L356.7,180.4 L356.7,180.1 L357.6,180.1 L358.4,180.1 L358.4,179.4 L359.1,179.4 L359.9,179.4 L359.9,178.8 L360.7,178.8 L361.5,178.8 L361.5,177.9 L362.3,177.9 L363.1,177.9 L363.1,176.9 L363.9,176.9 L364.5,176.9 L364.5,174.7 L365.1,174.7 L365.8,174.7 L365.8,172.5 L366.4,172.5 L367.0,172.5 L367.0,171.9 L367.6,171.9 L368.3,171.9 L368.3,171.3 L368.9,171.3 L369.4,171.3 L369.4,171.5 L370.0,171.5 L370.9,171.5 L370.9,170.4 L371.9,170.4 L372.9,170.4 L372.9,169.4 L373.8,169.4 L374.7,169.4 L374.7,168.2 L375.6,168.2 L376.6,168.2 L376.6,166.9 L377.5,166.9 L378.4,166.9 L378.4,166.2 L379.4,166.2 L380.4,166.2 L380.4,165.6 L381.3,165.6 L382.2,165.6 L382.2,164.7 L383.2,164.7 L384.2,164.7 L384.2,163.8 L385.1,163.8 L386.0,163.8 L386.0,163.2 L387.0,163.2 L387.9,163.2 L387.9,162.5 L388.8,162.5 L389.8,162.5 L389.8,161.9 L390.7,161.9 L391.7,161.9 L391.7,161.3 L392.6,161.3 L393.2,161.3 L393.2,160.4 L393.9,160.4 L394.5,160.4 L394.5,159.5 L395.1,159.5 L396.1,159.5 L396.1,156.3 L397.0,156.3 L397.9,156.3 L397.9,153.2 L398.9,153.2 L399.4,153.2 L399.4,152.6 L400.0,152.6 L400.9,152.6 L400.9,151.6 L401.9,151.6 L402.9,151.6 L402.9,150.7 L403.8,150.7 L404.7,150.7 L404.7,149.1 L405.6,149.1 L406.6,149.1 L406.6,147.5 L407.5,147.5 L408.4,147.5 L408.4,146.6 L409.4,146.6 L410.4,146.6 L410.4,145.6 L411.3,145.6 L412.0,145.6 L412.0,144.4 L412.6,144.4 L413.5,144.4 L413.5,141.0 L414.5,141.0 L415.4,141.0 L415.4,137.6 L416.3,137.6 L417.1,137.6 L417.1,136.4 L418.0,136.4 L418.8,136.4 L418.8,135.1 L419.6,135.1 L420.5,135.1 L420.5,133.9 L421.3,133.9 L422.1,133.9 L422.1,133.8 L422.9,133.8 L423.6,133.8 L423.6,133.6 L424.4,133.6 L425.2,133.6 L425.2,133.5 L426.0,133.5 L427.0,133.5 L427.0,132.5 L428.0,132.5 L429.0,132.5 L429.0,131.5 L430.0,131.5 L431.0,131.5 L431.0,130.8 L432.0,130.8 L433.0,130.8 L433.0,130.0 L434.0,130.0 L434.9,130.0 L434.9,128.8 L435.8,128.8 L436.6,128.8 L436.6,127.5 L437.5,127.5 L438.4,127.5 L438.4,125.7 L439.4,125.7 L440.4,125.7 L440.4,123.8 L441.3,123.8 L442.2,123.8 L442.2,122.7 L443.1,122.7 L444.1,122.7 L444.1,121.5 L445.0,121.5 L445.8,121.5 L445.8,120.8 L446.7,120.8 L447.5,120.8 L447.5,120.2 L448.3,120.2 L449.2,120.2 L449.2,119.5 L450.0,119.5 L451.0,119.5 L451.0,118.2 L452.0,118.2 L453.0,118.2 L453.0,116.8 L454.0,116.8 L455.0,116.8 L455.0,115.5 L456.0,115.5 L456.9,115.5 L456.9,114.5 L457.8,114.5 L458.6,114.5 L458.6,113.6 L459.5,113.6 L460.4,113.6 L460.4,112.6 L461.3,112.6 L462.2,112.6 L462.2,111.3 L463.1,111.3 L464.1,111.3 L464.1,110.0 L465.0,110.0 L465.6,110.0 L465.6,108.8 L466.3,108.8 L467.0,108.8 L467.0,107.5 L467.6,107.5 L468.5,107.5 L468.5,106.5 L469.5,106.5 L470.4,106.5 L470.4,105.6 L471.3,105.6 L472.2,105.6 L472.2,104.7 L473.2,104.7 L474.2,104.7 L474.2,103.8 L475.1,103.8 L476.1,103.8 L476.1,103.2 L477.0,103.2 L477.9,103.2 L477.9,102.5 L478.9,102.5 L479.8,102.5 L479.8,102.2 L480.8,102.2 L481.7,102.2 L481.7,101.9 L482.6,101.9 L483.2,101.9 L483.2,100.7 L483.9,100.7 L484.5,100.7 L484.5,99.5 L485.1,99.5 L485.9,99.5 L485.9,98.7 L486.8,98.7 L487.6,98.7 L487.6,97.8 L488.4,97.8 L489.3,97.8 L489.3,97.0 L490.1,97.0 L490.9,97.0 L490.9,96.4 L491.7,96.4 L492.6,96.4 L492.6,95.7 L493.4,95.7 L494.2,95.7 L494.2,95.1 L495.0,95.1 L495.8,95.1 L495.8,94.3 L496.7,94.3 L497.5,94.3 L497.5,93.4 L498.3,93.4 L499.2,93.4 L499.2,92.6 L500.0,92.6 L500.9,92.6 L500.9,91.9 L501.9,91.9 L502.9,91.9 L502.9,91.3 L503.8,91.3 L504.7,91.3 L504.7,90.7 L505.6,90.7 L506.6,90.7 L506.6,90.1 L507.5,90.1 L508.4,90.1 L508.4,89.2 L509.4,89.2 L510.4,89.2 L510.4,88.2 L511.3,88.2 L512.2,88.2 L512.2,86.3 L513.2,86.3 L514.2,86.3 L514.2,84.4 L515.1,84.4 L516.0,84.4 L516.0,83.8 L517.0,83.8 L517.9,83.8 L517.9,83.2 L518.8,83.2 L519.8,83.2 L519.8,82.0 L520.7,82.0 L521.7,82.0 L521.7,80.7 L522.6,80.7 L523.5,80.7 L523.5,79.5 L524.5,79.5 L525.5,79.5 L525.5,78.2 L526.4,78.2 L527.3,78.2 L527.3,77.8 L528.2,77.8 L529.1,77.8 L529.1,77.5 L530.0,77.5 L530.6,77.5 L530.6,75.3 L531.2,75.3 L531.9,75.3 L531.9,73.2 L532.5,73.2 L533.4,73.2 L533.4,72.2 L534.4,72.2 L535.3,72.2 L535.3,71.1 L536.3,71.1 L537.2,71.1 L537.2,70.1 L538.1,70.1 L539.1,70.1 L539.1,69.1 L540.0,69.1 L541.0,69.1 L541.0,68.0 L541.9,68.0 L542.9,68.0 L542.9,67.0 L543.8,67.0 L544.7,67.0 L544.7,66.3 L545.7,66.3 L546.6,66.3 L546.6,65.7 L547.5,65.7 L548.5,65.7 L548.5,65.0 L549.4,65.0 L550.3,65.0 L550.3,64.3 L551.3,64.3 L552.2,64.3 L552.2,63.7 L553.1,63.7 L554.1,63.7 L554.1,63.0 L555.0,63.0 L556.0,63.0 L556.0,62.6 L557.0,62.6 L558.0,62.6 L558.0,62.2 L559.0,62.2 L560.0,62.2 L560.0,61.8 L561.0,61.8 L562.0,61.8 L562.0,61.4 L563.0,61.4 L564.0,61.4 L564.0,61.0 L565.0,61.0 L565.9,61.0 L565.9,60.5 L566.8,60.5 L567.6,60.5 L567.6,60.0 L568.5,60.0 L569.4,60.0 L569.4,59.5 L570.2,59.5 L571.1,59.5 L571.1,59.0 L572.0,59.0 L572.9,59.0 L572.9,58.5 L573.7,58.5 L574.6,58.5 L574.6,58.0 L575.5,58.0 L576.3,58.0 L576.3,57.5 L577.2,57.5 L578.0,57.5 L578.0,57.0 L578.9,57.0 L579.8,57.0 L579.8,56.6 L580.8,56.6 L581.7,56.6 L581.7,56.3 L582.6,56.3 L583.2,56.3 L583.2,56.0 L583.8,56.0 L584.4,56.0 L584.4,55.7 L585.0,55.7 L585.9,55.7 L585.9,54.5 L586.8,54.5 L587.6,54.5 L587.6,53.4 L588.5,53.4 L589.4,53.4 L589.4,52.2 L590.2,52.2 L591.1,52.2 L591.1,51.0 L592.0,51.0 L593.0,51.0 L593.0,50.2 L594.0,50.2 L595.0,50.2 L595.0,49.5 L596.0,49.5 L597.0,49.5 L597.0,48.8 L598.0,48.8 L599.0,48.8 L599.0,48.0 L600.0,48.0 L601.1,48.0 L601.1,47.5 L602.2,47.5 L603.3,47.5 L603.3,46.9 L604.4,46.9 L605.2,46.9 L605.2,46.0 L606.0,46.0 L606.8,46.0 L606.8,45.1 L607.6,45.1 L608.5,45.1 L608.5,44.8 L609.5,44.8 L610.4,44.8 L610.4,44.4 L611.3,44.4 L612.2,44.4 L612.2,43.2 L613.1,43.2 L614.1,43.2 L614.1,42.0 L615.0,42.0 L616.0,42.0 L616.0,41.0 L617.0,41.0 L618.0,41.0 L618.0,40.0 L619.0,40.0 L620.0,40.0 L620.0,39.0 L621.0,39.0 L622.0,39.0 L622.0,38.0 L623.0,38.0 L624.0,38.0 L624.0,37.0 L625.0,37.0 L626.0,37.0 L626.0,36.2 L627.0,36.2 L628.0,36.2 L628.0,35.4 L629.0,35.4 L630.0,35.4 L630.0,34.6 L631.0,34.6 L632.0,34.6 L632.0,33.8 L633.0,33.8 L634.0,33.8 L634.0,33.0 L635.0,33.0 L636.1,33.0 L636.1,31.9 L637.2,31.9 L638.3,31.9 L638.3,30.9 L639.4,30.9 L640.5,30.9 L640.5,29.9 L641.6,29.9 L642.7,29.9 L642.7,28.8 L643.8,28.8 L644.8,28.8 L644.8,28.2 L645.7,28.2 L646.7,28.2 L646.7,27.6 L647.6,27.6 L648.2,27.6 L648.2,27.0 L648.9,27.0 L649.5,27.0 L649.5,26.3 L650.1,26.3 L651.1,26.3 L651.1,24.6 L652.0,24.6 L653.0,24.6 L653.0,23.0 L654.0,23.0 L655.0,23.0 L655.0,20.5 L656.0,20.5" fill="none" stroke="#AD002A" stroke-width="3" stroke-linejoin="round" stroke-linecap="round"/>
<path d="M97.5,364.0 L98.6,364.0 L98.6,362.8 L99.7,362.8 L100.8,362.8 L100.8,361.7 L101.8,361.7 L102.9,361.7 L102.9,360.5 L104.0,360.5 L104.8,360.5 L104.8,359.4 L105.7,359.4 L106.5,359.4 L106.5,358.3 L107.3,358.3 L108.2,358.3 L108.2,357.2 L109.0,357.2 L109.9,357.2 L109.9,356.1 L110.7,356.1 L111.5,356.1 L111.5,355.5 L112.4,355.5 L113.2,355.5 L113.2,354.8 L114.0,354.8 L114.9,354.8 L114.9,354.2 L115.7,354.2 L116.5,354.2 L116.5,350.1 L117.3,350.1 L118.2,350.1 L118.2,346.0 L119.0,346.0 L119.7,346.0 L119.7,341.8 L120.4,341.8 L121.1,341.8 L121.1,337.5 L121.8,337.5 L122.7,337.5 L122.7,336.1 L123.7,336.1 L124.6,336.1 L124.6,334.6 L125.5,334.6 L126.3,334.6 L126.3,333.6 L127.2,333.6 L128.1,333.6 L128.1,332.5 L128.9,332.5 L129.8,332.5 L129.8,331.5 L130.6,331.5 L131.4,331.5 L131.4,329.8 L132.3,329.8 L133.1,329.8 L133.1,328.1 L133.9,328.1 L134.8,328.1 L134.8,326.4 L135.6,326.4 L136.5,326.4 L136.5,324.9 L137.4,324.9 L138.4,324.9 L138.4,323.3 L139.3,323.3 L140.2,323.3 L140.2,322.1 L141.2,322.1 L142.1,322.1 L142.1,320.8 L143.1,320.8 L143.9,320.8 L143.9,319.1 L144.7,319.1 L145.6,319.1 L145.6,317.4 L146.4,317.4 L147.2,317.4 L147.2,315.7 L148.0,315.7 L148.9,315.7 L148.9,314.8 L149.9,314.8 L150.9,314.8 L150.9,313.8 L151.8,313.8 L152.7,313.8 L152.7,312.9 L153.7,312.9 L154.6,312.9 L154.6,311.9 L155.5,311.9 L156.6,311.9 L156.6,311.4 L157.7,311.4 L158.8,311.4 L158.8,311.0 L159.8,311.0 L160.9,311.0 L160.9,310.5 L162.0,310.5 L163.0,310.5 L163.0,310.1 L164.0,310.1 L165.1,310.1 L165.1,309.8 L166.1,309.8 L167.1,309.8 L167.1,309.4 L168.1,309.4 L168.7,309.4 L168.7,308.5 L169.3,308.5 L170.0,308.5 L170.0,307.6 L170.6,307.6 L171.3,307.6 L171.3,304.5 L172.1,304.5 L172.8,304.5 L172.8,301.3 L173.5,301.3 L174.3,301.3 L174.3,298.2 L175.0,298.2 L176.1,298.2 L176.1,296.5 L177.1,296.5 L178.2,296.5 L178.2,294.9 L179.2,294.9 L180.2,294.9 L180.2,293.2 L181.3,293.2 L182.1,293.2 L182.1,291.7 L183.0,291.7 L183.8,291.7 L183.8,290.3 L184.6,290.3 L185.5,290.3 L185.5,288.8 L186.3,288.8 L187.2,288.8 L187.2,290.1 L188.2,290.1 L189.1,290.1 L189.1,291.4 L190.0,291.4 L190.8,291.4 L190.8,290.4 L191.5,290.4 L192.2,290.4 L192.2,289.3 L193.0,289.3 L193.8,289.3 L193.8,287.4 L194.5,287.4 L195.2,287.4 L195.2,285.5 L196.0,285.5 L196.8,285.5 L196.8,283.6 L197.5,283.6 L198.2,283.6 L198.2,281.8 L199.0,281.8 L199.8,281.8 L199.8,280.8 L200.5,280.8 L201.2,280.8 L201.2,279.8 L202.0,279.8 L202.8,279.8 L202.8,278.1 L203.5,278.1 L204.2,278.1 L204.2,276.3 L205.0,276.3 L205.8,276.3 L205.8,275.3 L206.5,275.3 L207.2,275.3 L207.2,274.3 L208.0,274.3 L208.8,274.3 L208.8,273.3 L209.5,273.3 L210.2,273.3 L210.2,272.3 L211.0,272.3 L211.8,272.3 L211.8,271.3 L212.5,271.3 L213.2,271.3 L213.2,270.3 L214.0,270.3 L214.8,270.3 L214.8,269.3 L215.5,269.3 L216.2,269.3 L216.2,268.3 L217.0,268.3 L217.8,268.3 L217.8,267.4 L218.5,267.4 L219.2,267.4 L219.2,266.4 L220.0,266.4 L220.8,266.4 L220.8,265.1 L221.5,265.1 L222.2,265.1 L222.2,263.9 L223.0,263.9 L223.8,263.9 L223.8,262.4 L224.5,262.4 L225.2,262.4 L225.2,261.0 L226.0,261.0 L226.8,261.0 L226.8,259.5 L227.5,259.5 L228.2,259.5 L228.2,258.0 L229.0,258.0 L229.8,258.0 L229.8,256.4 L230.5,256.4 L231.2,256.4 L231.2,254.9 L232.0,254.9 L232.8,254.9 L232.8,253.1 L233.5,253.1 L234.2,253.1 L234.2,251.3 L235.0,251.3 L235.8,251.3 L235.8,250.3 L236.7,250.3 L237.5,250.3 L237.5,249.2 L238.3,249.2 L239.2,249.2 L239.2,248.2 L240.0,248.2 L241.0,248.2 L241.0,246.6 L242.0,246.6 L243.0,246.6 L243.0,245.0 L244.0,245.0 L244.9,245.0 L244.9,243.6 L245.8,243.6 L246.7,243.6 L246.7,242.1 L247.6,242.1 L248.5,242.1 L248.5,240.7 L249.4,240.7 L250.1,240.7 L250.1,240.1 L250.9,240.1 L251.6,240.1 L251.6,239.5 L252.3,239.5 L253.1,239.5 L253.1,238.9 L253.8,238.9 L254.8,238.9 L254.8,236.4 L255.7,236.4 L256.7,236.4 L256.7,233.8 L257.6,233.8 L258.6,233.8 L258.6,232.9 L259.5,232.9 L260.4,232.9 L260.4,232.0 L261.4,232.0 L262.3,232.0 L262.3,231.3 L263.2,231.3 L264.1,231.3 L264.1,230.7 L265.0,230.7 L266.1,230.7 L266.1,229.2 L267.1,229.2 L268.2,229.2 L268.2,227.6 L269.3,227.6 L270.4,227.6 L270.4,226.1 L271.4,226.1 L272.5,226.1 L272.5,224.6 L273.6,224.6 L274.6,224.6 L274.6,223.1 L275.7,223.1 L276.8,223.1 L276.8,221.5 L277.9,221.5 L278.9,221.5 L278.9,220.0 L280.0,220.0 L281.1,220.0 L281.1,218.1 L282.1,218.1 L283.2,218.1 L283.2,216.3 L284.3,216.3 L285.4,216.3 L285.4,214.4 L286.4,214.4 L287.5,214.4 L287.5,212.6 L288.6,212.6 L289.6,212.6 L289.6,210.7 L290.7,210.7 L291.8,210.7 L291.8,208.9 L292.9,208.9 L293.9,208.9 L293.9,207.0 L295.0,207.0 L295.8,207.0 L295.8,205.5 L296.7,205.5 L297.5,205.5 L297.5,204.1 L298.3,204.1 L299.2,204.1 L299.2,202.6 L300.0,202.6 L300.9,202.6 L300.9,201.1 L301.9,201.1 L302.9,201.1 L302.9,199.5 L303.8,199.5 L304.7,199.5 L304.7,197.9 L305.6,197.9 L306.6,197.9 L306.6,196.3 L307.5,196.3 L308.4,196.3 L308.4,195.7 L309.4,195.7 L310.4,195.7 L310.4,195.1 L311.3,195.1 L312.1,195.1 L312.1,194.4 L313.0,194.4 L313.8,194.4 L313.8,193.7 L314.6,193.7 L315.5,193.7 L315.5,193.0 L316.3,193.0 L317.2,193.0 L317.2,192.3 L318.0,192.3 L318.9,192.3 L318.9,191.5 L319.8,191.5 L320.6,191.5 L320.6,190.7 L321.5,190.7 L322.4,190.7 L322.4,189.8 L323.2,189.8 L324.1,189.8 L324.1,189.0 L325.0,189.0 L325.8,189.0 L325.8,188.3 L326.7,188.3 L327.5,188.3 L327.5,187.7 L328.3,187.7 L329.2,187.7 L329.2,187.0 L330.0,187.0 L331.0,187.0 L331.0,186.6 L332.0,186.6 L333.0,186.6 L333.0,186.1 L334.0,186.1 L335.0,186.1 L335.0,185.6 L336.0,185.6 L337.0,185.6 L337.0,185.2 L338.0,185.2 L339.0,185.2 L339.0,186.3 L340.0,186.3 L341.1,186.3 L341.1,185.9 L342.1,185.9 L343.1,185.9 L343.1,185.5 L344.2,185.5 L345.2,185.5 L345.2,185.1 L346.3,185.1 L347.4,185.1 L347.4,184.7 L348.4,184.7 L349.5,184.7 L349.5,184.2 L350.5,184.2 L351.6,184.2 L351.6,183.8 L352.6,183.8 L353.6,183.8 L353.6,183.6 L354.7,183.6 L355.7,183.6 L355.7,183.4 L356.7,183.4 L357.8,183.4 L357.8,183.2 L358.8,183.2 L359.9,183.2 L359.9,182.9 L360.9,182.9 L362.0,182.9 L362.0,182.6 L363.0,182.6 L364.1,182.6 L364.1,182.3 L365.1,182.3 L365.9,182.3 L365.9,182.2 L366.7,182.2 L367.6,182.2 L367.6,182.1 L368.4,182.1 L369.2,182.1 L369.2,182.0 L370.0,182.0 L371.1,182.0 L371.1,181.8 L372.1,181.8 L373.1,181.8 L373.1,181.5 L374.2,181.5 L375.2,181.5 L375.2,181.3 L376.3,181.3 L377.4,181.3 L377.4,180.9 L378.4,180.9 L379.5,180.9 L379.5,180.5 L380.5,180.5 L381.6,180.5 L381.6,180.1 L382.6,180.1 L383.6,180.1 L383.6,179.7 L384.7,179.7 L385.7,179.7 L385.7,179.2 L386.7,179.2 L387.8,179.2 L387.8,178.8 L388.8,178.8 L389.9,178.8 L389.9,178.6 L390.9,178.6 L392.0,178.6 L392.0,178.4 L393.0,178.4 L394.1,178.4 L394.1,178.2 L395.1,178.2 L395.9,178.2 L395.9,178.2 L396.7,178.2 L397.6,178.2 L397.6,178.3 L398.4,178.3 L399.2,178.3 L399.2,178.3 L400.0,178.3 L400.9,178.3 L400.9,178.1 L401.8,178.1 L402.6,178.1 L402.6,177.8 L403.5,177.8 L404.4,177.8 L404.4,177.6 L405.3,177.6 L406.2,177.6 L406.2,177.3 L407.0,177.3 L407.9,177.3 L407.9,177.1 L408.8,177.1 L409.9,177.1 L409.9,176.8 L411.0,176.8 L412.1,176.8 L412.1,176.4 L413.1,176.4 L414.2,176.4 L414.2,176.1 L415.3,176.1 L416.4,176.1 L416.4,175.8 L417.5,175.8 L418.5,175.8 L418.5,175.6 L419.5,175.6 L420.5,175.6 L420.5,175.4 L421.4,175.4 L422.4,175.4 L422.4,175.2 L423.4,175.2 L424.4,175.2 L424.4,175.0 L425.4,175.0 L426.1,175.0 L426.1,174.3 L426.9,174.3 L427.6,174.3 L427.6,173.5 L428.3,173.5 L429.1,173.5 L429.1,172.8 L429.8,172.8 L430.7,172.8 L430.7,171.8 L431.5,171.8 L432.4,171.8 L432.4,170.7 L433.3,170.7 L434.1,170.7 L434.1,169.7 L435.0,169.7 L435.9,169.7 L435.9,169.0 L436.8,169.0 L437.6,169.0 L437.6,168.2 L438.5,168.2 L439.4,168.2 L439.4,167.5 L440.3,167.5 L441.2,167.5 L441.2,165.3 L442.1,165.3 L442.9,165.3 L442.9,163.1 L443.8,163.1 L444.5,163.1 L444.5,161.3 L445.1,161.3 L445.8,161.3 L445.8,159.6 L446.4,159.6 L447.1,159.6 L447.1,159.0 L447.9,159.0 L448.6,159.0 L448.6,158.5 L449.3,158.5 L450.1,158.5 L450.1,157.9 L450.8,157.9 L451.9,157.9 L451.9,157.4 L453.0,157.4 L454.1,157.4 L454.1,157.0 L455.2,157.0 L456.0,157.0 L456.0,155.5 L456.8,155.5 L457.6,155.5 L457.6,154.1 L458.4,154.1 L459.2,154.1 L459.2,152.6 L460.0,152.6 L460.8,152.6 L460.8,151.8 L461.7,151.8 L462.5,151.8 L462.5,150.9 L463.3,150.9 L464.2,150.9 L464.2,150.1 L465.0,150.1 L465.8,150.1 L465.8,149.0 L466.7,149.0 L467.5,149.0 L467.5,147.9 L468.3,147.9 L469.2,147.9 L469.2,146.8 L470.0,146.8 L470.9,146.8 L470.9,145.7 L471.7,145.7 L472.6,145.7 L472.6,144.5 L473.4,144.5 L474.2,144.5 L474.2,143.4 L475.1,143.4 L475.9,143.4 L475.9,142.6 L476.8,142.6 L477.6,142.6 L477.6,141.7 L478.4,141.7 L479.3,141.7 L479.3,140.9 L480.1,140.9 L480.9,140.9 L480.9,139.7 L481.8,139.7 L482.6,139.7 L482.6,138.4 L483.4,138.4 L484.2,138.4 L484.2,135.9 L485.1,135.9 L486.0,135.9 L486.0,133.4 L486.8,133.4 L487.6,133.4 L487.6,131.3 L488.5,131.3 L489.3,131.3 L489.3,129.2 L490.1,129.2 L490.9,129.2 L490.9,128.4 L491.8,128.4 L492.6,128.4 L492.6,127.5 L493.4,127.5 L494.3,127.5 L494.3,126.7 L495.1,126.7 L496.0,126.7 L496.0,125.0 L496.8,125.0 L497.6,125.0 L497.6,123.3 L498.5,123.3 L499.5,123.3 L499.5,120.0 L500.5,120.0 L501.2,120.0 L501.2,118.0 L501.9,118.0 L502.6,118.0 L502.6,116.0 L503.3,116.0 L504.1,116.0 L504.1,115.4 L505.0,115.4 L505.9,115.4 L505.9,114.9 L506.7,114.9 L507.5,114.9 L507.5,114.3 L508.4,114.3 L509.2,114.3 L509.2,113.7 L510.1,113.7 L510.9,113.7 L510.9,113.2 L511.7,113.2 L512.6,113.2 L512.6,112.6 L513.4,112.6 L514.2,112.6 L514.2,111.5 L515.1,111.5 L515.9,111.5 L515.9,110.4 L516.7,110.4 L517.6,110.4 L517.6,109.3 L518.4,109.3 L519.2,109.3 L519.2,108.2 L520.1,108.2 L520.9,108.2 L520.9,107.0 L521.7,107.0 L522.6,107.0 L522.6,105.9 L523.4,105.9 L524.5,105.9 L524.5,104.7 L525.5,104.7 L526.5,104.7 L526.5,103.4 L527.6,103.4 L528.7,103.4 L528.7,102.2 L529.7,102.2 L530.8,102.2 L530.8,100.9 L531.8,100.9 L532.4,100.9 L532.4,99.7 L533.0,99.7 L533.7,99.7 L533.7,98.4 L534.3,98.4 L535.1,98.4 L535.1,93.4 L536.0,93.4 L536.6,93.4 L536.6,91.7 L537.2,91.7 L537.9,91.7 L537.9,90.0 L538.5,90.0 L539.2,90.0 L539.2,88.3 L540.0,88.3 L540.8,88.3 L540.8,87.2 L541.7,87.2 L542.5,87.2 L542.5,86.2 L543.3,86.2 L544.2,86.2 L544.2,85.1 L545.0,85.1 L545.8,85.1 L545.8,84.3 L546.7,84.3 L547.5,84.3 L547.5,83.4 L548.3,83.4 L549.2,83.4 L549.2,82.6 L550.0,82.6 L550.9,82.6 L550.9,81.3 L551.7,81.3 L552.5,81.3 L552.5,80.1 L553.4,80.1 L553.8,80.1 L553.8,75.9 L554.2,75.9 L554.8,75.9 L554.8,74.7 L555.5,74.7 L556.1,74.7 L556.1,73.4 L556.7,73.4 L557.5,73.4 L557.5,72.6 L558.4,72.6 L559.2,72.6 L559.2,71.7 L560.1,71.7 L561.0,71.7 L561.0,70.9 L561.8,70.9 L562.6,70.9 L562.6,70.1 L563.5,70.1 L564.3,70.1 L564.3,69.2 L565.1,69.2 L566.0,69.2 L566.0,68.4 L566.8,68.4 L567.6,68.4 L567.6,67.6 L568.5,67.6 L569.3,67.6 L569.3,66.7 L570.1,66.7 L571.0,66.7 L571.0,65.9 L571.8,65.9 L572.6,65.9 L572.6,65.1 L573.5,65.1 L574.3,65.1 L574.3,64.2 L575.1,64.2 L576.0,64.2 L576.0,63.4 L576.8,63.4 L577.6,63.4 L577.6,63.0 L578.4,63.0 L579.2,63.0 L579.2,62.5 L580.0,62.5 L581.0,62.5 L581.0,61.4 L582.0,61.4 L583.0,61.4 L583.0,60.3 L584.0,60.3 L585.0,60.3 L585.0,59.2 L586.0,59.2 L587.0,59.2 L587.0,58.1 L588.0,58.1 L589.0,58.1 L589.0,57.0 L590.0,57.0 L590.8,57.0 L590.8,55.7 L591.7,55.7 L592.5,55.7 L592.5,54.5 L593.3,54.5 L594.2,54.5 L594.2,53.2 L595.0,53.2 L596.0,53.2 L596.0,52.0 L596.9,52.0 L597.8,52.0 L597.8,50.7 L598.8,50.7 L599.7,50.7 L599.7,49.2 L600.6,49.2 L601.6,49.2 L601.6,47.6 L602.5,47.6 L603.5,47.6 L603.5,46.4 L604.4,46.4 L605.3,46.4 L605.3,45.1 L606.3,45.1 L607.2,45.1 L607.2,44.5 L608.2,44.5 L609.2,44.5 L609.2,43.8 L610.1,43.8 L610.9,43.8 L610.9,43.3 L611.7,43.3 L612.5,43.3 L612.5,42.8 L613.4,42.8 L614.2,42.8 L614.2,42.3 L615.0,42.3 L616.1,42.3 L616.1,41.6 L617.2,41.6 L618.2,41.6 L618.2,41.0 L619.3,41.0 L620.4,41.0 L620.4,40.3 L621.5,40.3 L622.6,40.3 L622.6,39.7 L623.6,39.7 L624.7,39.7 L624.7,39.0 L625.8,39.0 L626.8,39.0 L626.8,37.7 L627.9,37.7 L629.0,37.7 L629.0,36.5 L630.0,36.5 L631.0,36.5 L631.0,35.2 L632.1,35.2 L632.9,35.2 L632.9,33.9 L633.8,33.9 L634.6,33.9 L634.6,32.7 L635.5,32.7 L636.3,32.7 L636.3,31.4 L637.1,31.4 L638.0,31.4 L638.0,30.1 L638.8,30.1 L639.7,30.1 L639.7,29.1 L640.7,29.1 L641.6,29.1 L641.6,28.0 L642.5,28.0 L643.5,28.0 L643.5,27.0 L644.4,27.0 L645.3,27.0 L645.3,26.1 L646.3,26.1 L647.2,26.1 L647.2,25.3 L648.2,25.3 L649.2,25.3 L649.2,24.4 L650.1,24.4 L651.0,24.4 L651.0,23.5 L652.0,23.5 L652.9,23.5 L652.9,22.6 L653.8,22.6 L654.3,22.6 L654.3,21.6 L654.9,21.6 L655.5,21.6 L655.5,20.5 L656.0,20.5" fill="none" stroke="#ADB6B6" stroke-width="3" stroke-linejoin="round" stroke-linecap="round"/>
<path d="M97.5,364.0 L98.1,364.0 L98.1,361.9 L98.8,361.9 L99.4,361.9 L99.4,359.8 L100.0,359.8 L100.8,359.8 L100.8,357.5 L101.7,357.5 L102.5,357.5 L102.5,355.3 L103.3,355.3 L104.2,355.3 L104.2,353.0 L105.0,353.0 L105.8,353.0 L105.8,352.2 L106.7,352.2 L107.5,352.2 L107.5,351.3 L108.3,351.3 L109.2,351.3 L109.2,350.5 L110.0,350.5 L111.0,350.5 L111.0,349.5 L112.0,349.5 L113.0,349.5 L113.0,348.5 L114.0,348.5 L115.0,348.5 L115.0,347.5 L116.0,347.5 L117.0,347.5 L117.0,344.8 L118.0,344.8 L119.0,344.8 L119.0,342.0 L120.0,342.0 L120.8,342.0 L120.8,340.2 L121.5,340.2 L122.2,340.2 L122.2,338.4 L123.0,338.4 L123.8,338.4 L123.8,336.9 L124.7,336.9 L125.5,336.9 L125.5,335.5 L126.3,335.5 L127.2,335.5 L127.2,334.0 L128.0,334.0 L128.9,334.0 L128.9,332.8 L129.9,332.8 L130.9,332.8 L130.9,331.5 L131.8,331.5 L132.8,331.5 L132.8,330.2 L133.7,330.2 L134.6,330.2 L134.6,329.0 L135.6,329.0 L136.3,329.0 L136.3,327.9 L137.1,327.9 L137.8,327.9 L137.8,326.9 L138.5,326.9 L139.3,326.9 L139.3,325.8 L140.0,325.8 L140.7,325.8 L140.7,324.8 L141.5,324.8 L142.2,324.8 L142.2,323.7 L142.9,323.7 L143.7,323.7 L143.7,322.7 L144.4,322.7 L145.3,322.7 L145.3,321.1 L146.2,321.1 L147.1,321.1 L147.1,319.5 L148.0,319.5 L148.9,319.5 L148.9,318.9 L149.9,318.9 L150.9,318.9 L150.9,318.2 L151.8,318.2 L152.7,318.2 L152.7,316.6 L153.7,316.6 L154.6,316.6 L154.6,315.1 L155.5,315.1 L156.4,315.1 L156.4,314.1 L157.4,314.1 L158.4,314.1 L158.4,313.2 L159.3,313.2 L160.2,313.2 L160.2,311.6 L161.2,311.6 L162.1,311.6 L162.1,310.1 L163.1,310.1 L164.0,310.1 L164.0,308.2 L164.9,308.2 L165.9,308.2 L165.9,306.3 L166.8,306.3 L167.8,306.3 L167.8,305.4 L168.7,305.4 L169.6,305.4 L169.6,304.4 L170.6,304.4 L171.6,304.4 L171.6,302.9 L172.5,302.9 L173.4,302.9 L173.4,301.3 L174.4,301.3 L175.3,301.3 L175.3,300.4 L176.2,300.4 L177.1,300.4 L177.1,299.4 L178.0,299.4 L178.4,299.4 L178.4,298.9 L178.8,298.9 L179.7,298.9 L179.7,297.9 L180.7,297.9 L181.6,297.9 L181.6,297.0 L182.5,297.0 L183.4,297.0 L183.4,295.1 L184.4,295.1 L185.4,295.1 L185.4,293.2 L186.3,293.2 L187.2,293.2 L187.2,291.9 L188.2,291.9 L189.1,291.9 L189.1,290.7 L190.1,290.7 L191.0,290.7 L191.0,289.4 L191.9,289.4 L192.9,289.4 L192.9,288.2 L193.8,288.2 L194.4,288.2 L194.4,286.3 L195.1,286.3 L195.7,286.3 L195.7,284.4 L196.3,284.4 L197.0,284.4 L197.0,282.9 L197.6,282.9 L198.2,282.9 L198.2,281.3 L198.9,281.3 L199.8,281.3 L199.8,280.1 L200.8,280.1 L201.7,280.1 L201.7,278.8 L202.6,278.8 L203.2,278.8 L203.2,277.2 L203.8,277.2 L204.4,277.2 L204.4,275.7 L205.0,275.7 L205.9,275.7 L205.9,274.4 L206.9,274.4 L207.9,274.4 L207.9,273.2 L208.8,273.2 L209.7,273.2 L209.7,271.9 L210.7,271.9 L211.6,271.9 L211.6,270.7 L212.5,270.7 L213.4,270.7 L213.4,269.4 L214.4,269.4 L215.4,269.4 L215.4,268.2 L216.3,268.2 L217.2,268.2 L217.2,266.9 L218.2,266.9 L219.1,266.9 L219.1,265.7 L220.1,265.7 L221.0,265.7 L221.0,264.1 L221.9,264.1 L222.9,264.1 L222.9,262.6 L223.8,262.6 L224.8,262.6 L224.8,260.7 L225.7,260.7 L226.6,260.7 L226.6,258.8 L227.6,258.8 L228.6,258.8 L228.6,256.9 L229.5,256.9 L230.4,256.9 L230.4,255.0 L231.4,255.0 L232.3,255.0 L232.3,252.8 L233.2,252.8 L234.1,252.8 L234.1,250.7 L235.0,250.7 L235.9,250.7 L235.9,250.1 L236.9,250.1 L237.9,250.1 L237.9,249.4 L238.8,249.4 L239.7,249.4 L239.7,248.4 L240.7,248.4 L241.6,248.4 L241.6,247.5 L242.5,247.5 L243.4,247.5 L243.4,246.9 L244.3,246.9 L245.2,246.9 L245.2,246.4 L246.2,246.4 L247.1,246.4 L247.1,245.8 L248.0,245.8 L249.0,245.8 L249.0,245.1 L249.9,245.1 L250.9,245.1 L250.9,244.5 L251.9,244.5 L252.8,244.5 L252.8,243.8 L253.8,243.8 L254.7,243.8 L254.7,242.7 L255.5,242.7 L256.4,242.7 L256.4,241.7 L257.2,241.7 L258.0,241.7 L258.0,240.6 L258.9,240.6 L259.5,240.6 L259.5,239.4 L260.1,239.4 L260.8,239.4 L260.8,238.2 L261.4,238.2 L262.3,238.2 L262.3,237.2 L263.2,237.2 L264.1,237.2 L264.1,236.3 L265.0,236.3 L265.8,236.3 L265.8,232.7 L266.5,232.7 L267.2,232.7 L267.2,229.0 L268.0,229.0 L269.0,229.0 L269.0,224.5 L270.0,224.5 L270.6,224.5 L270.6,223.8 L271.3,223.8 L272.0,223.8 L272.0,223.2 L272.6,223.2 L273.5,223.2 L273.5,221.6 L274.5,221.6 L275.4,221.6 L275.4,220.1 L276.3,220.1 L276.9,220.1 L276.9,219.4 L277.6,219.4 L278.2,219.4 L278.2,218.8 L278.8,218.8 L279.8,218.8 L279.8,213.2 L280.7,213.2 L281.5,213.2 L281.5,212.2 L282.3,212.2 L283.1,212.2 L283.1,211.3 L283.9,211.3 L284.8,211.3 L284.8,210.9 L285.8,210.9 L286.7,210.9 L286.7,210.6 L287.6,210.6 L288.2,210.6 L288.2,210.3 L288.8,210.3 L289.4,210.3 L289.4,210.0 L290.0,210.0 L290.8,210.0 L290.8,208.8 L291.7,208.8 L292.5,208.8 L292.5,207.5 L293.3,207.5 L294.2,207.5 L294.2,206.3 L295.0,206.3 L295.9,206.3 L295.9,205.7 L296.9,205.7 L297.9,205.7 L297.9,205.0 L298.8,205.0 L299.6,205.0 L299.6,203.8 L300.5,203.8 L301.3,203.8 L301.3,202.5 L302.1,202.5 L303.0,202.5 L303.0,201.3 L303.8,201.3 L304.9,201.3 L304.9,200.2 L305.9,200.2 L306.9,200.2 L306.9,199.0 L308.0,199.0 L309.0,199.0 L309.0,198.1 L309.9,198.1 L310.9,198.1 L310.9,197.2 L311.9,197.2 L312.8,197.2 L312.8,196.3 L313.8,196.3 L314.6,196.3 L314.6,196.1 L315.5,196.1 L316.4,196.1 L316.4,195.8 L317.2,195.8 L318.0,195.8 L318.0,195.6 L318.9,195.6 L319.5,195.6 L319.5,195.1 L320.1,195.1 L321.1,195.1 L321.1,194.1 L322.0,194.1 L322.9,194.1 L322.9,193.2 L323.9,193.2 L324.8,193.2 L324.8,192.6 L325.8,192.6 L326.7,192.6 L326.7,191.9 L327.6,191.9 L328.5,191.9 L328.5,190.7 L329.3,190.7 L330.1,190.7 L330.1,189.5 L331.0,189.5 L332.1,189.5 L332.1,187.7 L333.2,187.7 L334.3,187.7 L334.3,186.0 L335.4,186.0 L336.4,186.0 L336.4,184.2 L337.5,184.2 L338.6,184.2 L338.6,182.5 L339.7,182.5 L340.8,182.5 L340.8,180.7 L341.9,180.7 L342.7,180.7 L342.7,180.1 L343.4,180.1 L344.2,180.1 L344.2,179.4 L345.0,179.4 L345.8,179.4 L345.8,179.2 L346.7,179.2 L347.5,179.2 L347.5,179.0 L348.3,179.0 L349.2,179.0 L349.2,178.8 L350.0,178.8 L350.9,178.8 L350.9,177.9 L351.9,177.9 L352.9,177.9 L352.9,176.9 L353.8,176.9 L354.8,176.9 L354.8,176.6 L355.7,176.6 L356.7,176.6 L356.7,176.3 L357.6,176.3 L358.5,176.3 L358.5,175.7 L359.5,175.7 L360.4,175.7 L360.4,175.0 L361.3,175.0 L362.2,175.0 L362.2,174.4 L363.2,174.4 L364.2,174.4 L364.2,173.8 L365.1,173.8 L365.7,173.8 L365.7,172.9 L366.4,172.9 L367.0,172.9 L367.0,171.9 L367.6,171.9 L368.2,171.9 L368.2,172.2 L368.8,172.2 L369.4,172.2 L369.4,172.6 L370.0,172.6 L370.9,172.6 L370.9,170.1 L371.9,170.1 L372.9,170.1 L372.9,167.5 L373.8,167.5 L374.4,167.5 L374.4,166.2 L375.1,166.2 L375.7,166.2 L375.7,165.0 L376.3,165.0 L376.9,165.0 L376.9,160.0 L377.5,160.0 L378.1,160.0 L378.1,158.2 L378.8,158.2 L379.4,158.2 L379.4,156.3 L380.0,156.3 L380.9,156.3 L380.9,155.7 L381.9,155.7 L382.9,155.7 L382.9,155.1 L383.8,155.1 L384.8,155.1 L384.8,154.1 L385.7,154.1 L386.7,154.1 L386.7,153.2 L387.6,153.2 L388.5,153.2 L388.5,152.2 L389.5,152.2 L390.4,152.2 L390.4,151.3 L391.3,151.3 L392.2,151.3 L392.2,150.4 L393.2,150.4 L394.2,150.4 L394.2,149.4 L395.1,149.4 L395.9,149.4 L395.9,148.2 L396.8,148.2 L397.6,148.2 L397.6,146.9 L398.4,146.9 L399.3,146.9 L399.3,145.7 L400.1,145.7 L400.7,145.7 L400.7,144.1 L401.4,144.1 L402.0,144.1 L402.0,142.5 L402.6,142.5 L403.4,142.5 L403.4,140.9 L404.2,140.9 L405.1,140.9 L405.1,139.2 L405.9,139.2 L406.7,139.2 L406.7,137.6 L407.5,137.6 L408.4,137.6 L408.4,136.3 L409.4,136.3 L410.4,136.3 L410.4,135.1 L411.3,135.1 L412.2,135.1 L412.2,133.6 L413.1,133.6 L414.1,133.6 L414.1,132.0 L415.0,132.0 L415.9,132.0 L415.9,131.1 L416.9,131.1 L417.9,131.1 L417.9,130.1 L418.8,130.1 L419.8,130.1 L419.8,128.8 L420.7,128.8 L421.7,128.8 L421.7,127.6 L422.6,127.6 L423.4,127.6 L423.4,126.3 L424.1,126.3 L424.9,126.3 L424.9,125.1 L425.7,125.1 L426.4,125.1 L426.4,124.9 L427.2,124.9 L427.9,124.9 L427.9,124.6 L428.6,124.6 L429.4,124.6 L429.4,124.4 L430.1,124.4 L430.9,124.4 L430.9,123.8 L431.7,123.8 L432.6,123.8 L432.6,123.2 L433.4,123.2 L434.2,123.2 L434.2,122.6 L435.0,122.6 L436.0,122.6 L436.0,121.6 L437.0,121.6 L438.0,121.6 L438.0,120.5 L439.0,120.5 L440.0,120.5 L440.0,119.5 L441.0,119.5 L441.9,119.5 L441.9,118.6 L442.8,118.6 L443.6,118.6 L443.6,117.8 L444.5,117.8 L445.4,117.8 L445.4,116.9 L446.2,116.9 L447.1,116.9 L447.1,116.0 L448.0,116.0 L449.0,116.0 L449.0,115.3 L449.9,115.3 L450.9,115.3 L450.9,114.6 L451.9,114.6 L452.8,114.6 L452.8,113.9 L453.8,113.9 L454.6,113.9 L454.6,111.5 L455.4,111.5 L456.2,111.5 L456.2,109.0 L457.0,109.0 L457.8,109.0 L457.8,106.4 L458.6,106.4 L459.3,106.4 L459.3,103.8 L460.1,103.8 L460.7,103.8 L460.7,102.8 L461.4,102.8 L462.0,102.8 L462.0,101.9 L462.6,101.9 L463.2,101.9 L463.2,99.8 L463.8,99.8 L464.4,99.8 L464.4,97.6 L465.0,97.6 L465.9,97.6 L465.9,96.7 L466.9,96.7 L467.9,96.7 L467.9,95.7 L468.8,95.7 L469.7,95.7 L469.7,95.1 L470.6,95.1 L471.6,95.1 L471.6,94.5 L472.5,94.5 L473.4,94.5 L473.4,93.5 L474.4,93.5 L475.4,93.5 L475.4,92.6 L476.3,92.6 L477.2,92.6 L477.2,91.9 L478.2,91.9 L479.2,91.9 L479.2,91.3 L480.1,91.3 L481.0,91.3 L481.0,91.0 L482.0,91.0 L482.9,91.0 L482.9,90.7 L483.8,90.7 L484.8,90.7 L484.8,89.8 L485.7,89.8 L486.7,89.8 L486.7,88.8 L487.6,88.8 L488.2,88.8 L488.2,88.2 L488.9,88.2 L489.5,88.2 L489.5,87.6 L490.1,87.6 L491.1,87.6 L491.1,86.6 L492.2,86.6 L493.2,86.6 L493.2,85.5 L494.2,85.5 L495.3,85.5 L495.3,84.5 L496.3,84.5 L497.2,84.5 L497.2,83.8 L498.1,83.8 L499.1,83.8 L499.1,83.2 L500.0,83.2 L500.9,83.2 L500.9,82.6 L501.9,82.6 L502.9,82.6 L502.9,81.9 L503.8,81.9 L504.7,81.9 L504.7,81.0 L505.6,81.0 L506.6,81.0 L506.6,80.0 L507.5,80.0 L508.4,80.0 L508.4,79.4 L509.4,79.4 L510.4,79.4 L510.4,78.8 L511.3,78.8 L512.2,78.8 L512.2,78.5 L513.2,78.5 L514.2,78.5 L514.2,78.2 L515.1,78.2 L516.0,78.2 L516.0,77.6 L517.0,77.6 L517.9,77.6 L517.9,76.9 L518.8,76.9 L519.8,76.9 L519.8,76.1 L520.9,76.1 L521.9,76.1 L521.9,75.3 L522.9,75.3 L524.0,75.3 L524.0,74.5 L525.0,74.5 L525.9,74.5 L525.9,73.7 L526.9,73.7 L527.8,73.7 L527.8,73.0 L528.8,73.0 L529.7,73.0 L529.7,72.2 L530.6,72.2 L531.6,72.2 L531.6,71.4 L532.5,71.4 L533.5,71.4 L533.5,71.1 L534.4,71.1 L535.3,71.1 L535.3,70.7 L536.3,70.7 L537.2,70.7 L537.2,70.8 L538.1,70.8 L539.1,70.8 L539.1,70.9 L540.0,70.9 L540.8,70.9 L540.8,70.6 L541.7,70.6 L542.5,70.6 L542.5,70.4 L543.3,70.4 L544.2,70.4 L544.2,70.1 L545.0,70.1 L545.8,70.1 L545.8,69.7 L546.7,69.7 L547.5,69.7 L547.5,69.2 L548.4,69.2 L549.2,69.2 L549.2,68.8 L550.0,68.8 L550.9,68.8 L550.9,68.4 L551.7,68.4 L552.5,68.4 L552.5,67.6 L553.4,67.6 L554.2,67.6 L554.2,66.7 L555.0,66.7 L555.9,66.7 L555.9,65.9 L556.7,65.9 L557.5,65.9 L557.5,65.1 L558.4,65.1 L559.2,65.1 L559.2,64.2 L560.1,64.2 L561.0,64.2 L561.0,63.4 L561.8,63.4 L562.6,63.4 L562.6,62.6 L563.5,62.6 L564.3,62.6 L564.3,61.7 L565.1,61.7 L566.0,61.7 L566.0,60.9 L566.8,60.9 L567.6,60.9 L567.6,60.6 L568.5,60.6 L569.3,60.6 L569.3,60.3 L570.1,60.3 L571.0,60.3 L571.0,60.0 L571.8,60.0 L572.8,60.0 L572.8,59.8 L573.8,59.8 L574.9,59.8 L574.9,59.6 L575.9,59.6 L576.9,59.6 L576.9,59.4 L578.0,59.4 L579.0,59.4 L579.0,59.2 L580.0,59.2 L580.7,59.2 L580.7,57.6 L581.4,57.6 L582.3,57.6 L582.3,57.3 L583.2,57.3 L584.1,57.3 L584.1,57.0 L585.0,57.0 L586.0,57.0 L586.0,56.3 L587.1,56.3 L588.1,56.3 L588.1,55.7 L589.2,55.7 L590.2,55.7 L590.2,55.0 L591.3,55.0 L592.2,55.0 L592.2,55.0 L593.1,55.0 L594.1,55.0 L594.1,55.0 L595.0,55.0 L596.0,55.0 L596.0,54.2 L597.1,54.2 L598.1,54.2 L598.1,53.4 L599.2,53.4 L600.2,53.4 L600.2,52.6 L601.3,52.6 L602.3,52.6 L602.3,51.9 L603.4,51.9 L604.5,51.9 L604.5,51.2 L605.5,51.2 L606.5,51.2 L606.5,50.5 L607.6,50.5 L608.4,50.5 L608.4,49.7 L609.3,49.7 L610.1,49.7 L610.1,49.0 L610.9,49.0 L611.8,49.0 L611.8,48.2 L612.6,48.2 L613.7,48.2 L613.7,47.0 L614.8,47.0 L615.9,47.0 L615.9,45.7 L617.0,45.7 L618.1,45.7 L618.1,44.2 L619.2,44.2 L620.3,44.2 L620.3,42.6 L621.4,42.6 L622.3,42.6 L622.3,41.0 L623.2,41.0 L624.1,41.0 L624.1,39.5 L625.0,39.5 L626.0,39.5 L626.0,38.7 L626.9,38.7 L627.9,38.7 L627.9,37.9 L628.9,37.9 L629.8,37.9 L629.8,37.1 L630.8,37.1 L631.8,37.1 L631.8,35.7 L632.9,35.7 L634.0,35.7 L634.0,34.3 L635.0,34.3 L636.0,34.3 L636.0,33.8 L636.9,33.8 L637.8,33.8 L637.8,33.2 L638.8,33.2 L639.7,33.2 L639.7,32.9 L640.6,32.9 L641.6,32.9 L641.6,32.6 L642.5,32.6 L643.4,32.6 L643.4,32.5 L644.2,32.5 L645.0,32.5 L645.0,32.3 L645.9,32.3 L646.8,32.3 L646.8,32.2 L647.6,32.2 L648.5,32.2 L648.5,31.5 L649.4,31.5 L649.8,31.5 L649.8,28.5 L650.3,28.5 L650.9,28.5 L650.9,27.2 L651.5,27.2 L652.0,27.2 L652.0,25.9 L652.6,25.9 L653.2,25.9 L653.2,24.6 L653.9,24.6 L654.5,24.6 L654.5,23.4 L655.1,23.4 L655.8,23.4 L655.8,21.8 L656.5,21.8" fill="none" stroke="#925E9F" stroke-width="3" stroke-linejoin="round" stroke-linecap="round"/>
<path d="M97.5,363.5 L98.1,363.5 L98.1,361.4 L98.8,361.4 L99.4,361.4 L99.4,359.2 L100.0,359.2 L100.8,359.2 L100.8,357.0 L101.6,357.0 L102.4,357.0 L102.4,354.8 L103.2,354.8 L103.8,354.8 L103.8,353.2 L104.5,353.2 L105.1,353.2 L105.1,351.7 L105.7,351.7 L106.5,351.7 L106.5,351.3 L107.2,351.3 L108.0,351.3 L108.0,350.9 L108.8,350.9 L109.8,350.9 L109.8,350.4 L110.7,350.4 L111.6,350.4 L111.6,350.0 L112.6,350.0 L113.4,350.0 L113.4,348.9 L114.2,348.9 L114.9,348.9 L114.9,347.7 L115.7,347.7 L116.5,347.7 L116.5,346.4 L117.3,346.4 L118.1,346.4 L118.1,345.0 L118.9,345.0 L119.6,345.0 L119.6,343.2 L120.3,343.2 L121.1,343.2 L121.1,341.5 L121.8,341.5 L122.7,341.5 L122.7,339.6 L123.7,339.6 L124.6,339.6 L124.6,337.7 L125.5,337.7 L126.3,337.7 L126.3,336.2 L127.2,336.2 L128.1,336.2 L128.1,334.8 L128.9,334.8 L129.8,334.8 L129.8,333.3 L130.6,333.3 L131.5,333.3 L131.5,332.4 L132.4,332.4 L133.4,332.4 L133.4,331.5 L134.3,331.5 L135.2,331.5 L135.2,330.6 L136.2,330.6 L137.1,330.6 L137.1,329.6 L138.1,329.6 L139.1,329.6 L139.1,328.0 L140.0,328.0 L140.9,328.0 L140.9,326.4 L141.9,326.4 L142.5,326.4 L142.5,325.1 L143.2,325.1 L143.8,325.1 L143.8,323.9 L144.4,323.9 L145.3,323.9 L145.3,323.3 L146.2,323.3 L147.1,323.3 L147.1,322.7 L148.0,322.7 L149.0,322.7 L149.0,321.6 L150.0,321.6 L151.0,321.6 L151.0,320.5 L152.0,320.5 L152.8,320.5 L152.8,319.9 L153.7,319.9 L154.5,319.9 L154.5,319.4 L155.3,319.4 L156.2,319.4 L156.2,318.8 L157.0,318.8 L157.9,318.8 L157.9,318.2 L158.7,318.2 L159.5,318.2 L159.5,317.2 L160.2,317.2 L161.0,317.2 L161.0,316.3 L161.8,316.3 L162.8,316.3 L162.8,315.1 L163.7,315.1 L164.6,315.1 L164.6,313.8 L165.6,313.8 L166.5,313.8 L166.5,312.6 L167.4,312.6 L168.4,312.6 L168.4,311.3 L169.3,311.3 L170.2,311.3 L170.2,309.5 L171.2,309.5 L172.1,309.5 L172.1,307.6 L173.1,307.6 L173.7,307.6 L173.7,306.6 L174.3,306.6 L175.0,306.6 L175.0,305.7 L175.6,305.7 L176.6,305.7 L176.6,302.6 L177.5,302.6 L178.4,302.6 L178.4,301.4 L179.4,301.4 L180.4,301.4 L180.4,300.1 L181.3,300.1 L182.2,300.1 L182.2,298.9 L183.2,298.9 L184.1,298.9 L184.1,297.6 L185.0,297.6 L185.7,297.6 L185.7,296.6 L186.3,296.6 L186.9,296.6 L186.9,295.7 L187.6,295.7 L188.3,295.7 L188.3,295.4 L189.1,295.4 L189.8,295.4 L189.8,295.0 L190.5,295.0 L191.3,295.0 L191.3,294.8 L192.2,294.8 L193.0,294.8 L193.0,294.5 L193.8,294.5 L194.8,294.5 L194.8,293.6 L195.7,293.6 L196.6,293.6 L196.6,292.6 L197.6,292.6 L198.2,292.6 L198.2,291.6 L198.8,291.6 L199.5,291.6 L199.5,290.7 L200.1,290.7 L200.7,290.7 L200.7,289.8 L201.3,289.8 L202.0,289.8 L202.0,288.8 L202.6,288.8 L203.2,288.8 L203.2,288.2 L203.8,288.2 L204.4,288.2 L204.4,287.6 L205.0,287.6 L205.8,287.6 L205.8,287.0 L206.7,287.0 L207.5,287.0 L207.5,286.3 L208.3,286.3 L209.2,286.3 L209.2,285.7 L210.0,285.7 L210.9,285.7 L210.9,284.6 L211.9,284.6 L212.9,284.6 L212.9,283.6 L213.8,283.6 L214.8,283.6 L214.8,282.6 L215.7,282.6 L216.6,282.6 L216.6,281.5 L217.6,281.5 L218.3,281.5 L218.3,280.5 L219.0,280.5 L219.8,280.5 L219.8,279.5 L220.6,279.5 L221.4,279.5 L221.4,278.6 L222.2,278.6 L223.0,278.6 L223.0,277.6 L223.8,277.6 L224.8,277.6 L224.8,276.1 L225.7,276.1 L226.6,276.1 L226.6,274.5 L227.6,274.5 L228.6,274.5 L228.6,272.6 L229.5,272.6 L230.4,272.6 L230.4,270.7 L231.4,270.7 L232.3,270.7 L232.3,269.1 L233.2,269.1 L234.1,269.1 L234.1,267.6 L235.0,267.6 L235.9,267.6 L235.9,267.0 L236.9,267.0 L237.9,267.0 L237.9,266.4 L238.8,266.4 L239.4,266.4 L239.4,265.4 L240.1,265.4 L240.7,265.4 L240.7,264.5 L241.3,264.5 L242.2,264.5 L242.2,264.2 L243.2,264.2 L244.1,264.2 L244.1,263.9 L245.0,263.9 L245.9,263.9 L245.9,263.5 L246.9,263.5 L247.9,263.5 L247.9,263.2 L248.8,263.2 L249.8,263.2 L249.8,261.4 L250.7,261.4 L251.6,261.4 L251.6,259.5 L252.6,259.5 L253.5,259.5 L253.5,258.2 L254.4,258.2 L255.4,258.2 L255.4,257.0 L256.3,257.0 L257.2,257.0 L257.2,255.7 L258.2,255.7 L259.2,255.7 L259.2,254.4 L260.1,254.4 L260.7,254.4 L260.7,253.2 L261.4,253.2 L262.0,253.2 L262.0,251.9 L262.6,251.9 L263.2,251.9 L263.2,251.3 L263.8,251.3 L264.4,251.3 L264.4,250.7 L265.0,250.7 L265.9,250.7 L265.9,249.8 L266.9,249.8 L267.9,249.8 L267.9,248.9 L268.8,248.9 L269.4,248.9 L269.4,247.9 L270.1,247.9 L270.7,247.9 L270.7,247.0 L271.3,247.0 L272.2,247.0 L272.2,245.8 L273.1,245.8 L274.1,245.8 L274.1,244.5 L275.0,244.5 L275.9,244.5 L275.9,244.2 L276.9,244.2 L277.9,244.2 L277.9,243.8 L278.8,243.8 L279.8,243.8 L279.8,243.2 L280.7,243.2 L281.7,243.2 L281.7,242.6 L282.6,242.6 L283.2,242.6 L283.2,241.9 L283.9,241.9 L284.5,241.9 L284.5,241.3 L285.1,241.3 L285.7,241.3 L285.7,239.8 L286.4,239.8 L287.0,239.8 L287.0,238.2 L287.6,238.2 L288.2,238.2 L288.2,236.6 L288.9,236.6 L289.5,236.6 L289.5,235.0 L290.1,235.0 L290.7,235.0 L290.7,233.8 L291.4,233.8 L292.0,233.8 L292.0,232.5 L292.6,232.5 L293.2,232.5 L293.2,231.2 L293.8,231.2 L294.4,231.2 L294.4,230.0 L295.0,230.0 L295.9,230.0 L295.9,227.2 L296.9,227.2 L297.9,227.2 L297.9,224.5 L298.8,224.5 L299.7,224.5 L299.7,223.2 L300.6,223.2 L301.6,223.2 L301.6,222.0 L302.5,222.0 L303.4,222.0 L303.4,220.8 L304.4,220.8 L305.4,220.8 L305.4,219.5 L306.3,219.5 L307.2,219.5 L307.2,218.2 L308.2,218.2 L309.2,218.2 L309.2,217.0 L310.1,217.0 L311.0,217.0 L311.0,216.1 L312.0,216.1 L312.9,216.1 L312.9,215.1 L313.8,215.1 L314.8,215.1 L314.8,214.1 L315.7,214.1 L316.7,214.1 L316.7,213.2 L317.6,213.2 L318.6,213.2 L318.6,211.9 L319.5,211.9 L320.4,211.9 L320.4,210.7 L321.4,210.7 L322.3,210.7 L322.3,209.8 L323.2,209.8 L324.1,209.8 L324.1,208.9 L325.0,208.9 L325.9,208.9 L325.9,208.6 L326.9,208.6 L327.9,208.6 L327.9,208.2 L328.8,208.2 L329.7,208.2 L329.7,207.9 L330.6,207.9 L331.6,207.9 L331.6,207.6 L332.5,207.6 L333.4,207.6 L333.4,206.9 L334.4,206.9 L335.4,206.9 L335.4,206.3 L336.3,206.3 L336.9,206.3 L336.9,205.1 L337.6,205.1 L338.2,205.1 L338.2,203.8 L338.8,203.8 L339.4,203.8 L339.4,202.9 L340.1,202.9 L340.7,202.9 L340.7,202.0 L341.3,202.0 L342.2,202.0 L342.2,201.3 L343.2,201.3 L344.2,201.3 L344.2,200.7 L345.1,200.7 L346.1,200.7 L346.1,200.1 L347.0,200.1 L347.9,200.1 L347.9,199.4 L348.9,199.4 L349.8,199.4 L349.8,198.2 L350.8,198.2 L351.7,198.2 L351.7,196.9 L352.6,196.9 L353.2,196.9 L353.2,195.4 L353.8,195.4 L354.4,195.4 L354.4,193.8 L355.0,193.8 L355.6,193.8 L355.6,191.4 L356.3,191.4 L356.9,191.4 L356.9,190.4 L357.6,190.4 L358.2,190.4 L358.2,189.5 L358.8,189.5 L359.8,189.5 L359.8,189.2 L360.7,189.2 L361.7,189.2 L361.7,188.9 L362.6,188.9 L363.6,188.9 L363.6,188.6 L364.5,188.6 L365.4,188.6 L365.4,188.2 L366.4,188.2 L367.3,188.2 L367.3,187.9 L368.2,187.9 L369.1,187.9 L369.1,187.6 L370.0,187.6 L370.9,187.6 L370.9,187.3 L371.9,187.3 L372.9,187.3 L372.9,187.0 L373.8,187.0 L374.7,187.0 L374.7,186.1 L375.6,186.1 L376.6,186.1 L376.6,185.1 L377.5,185.1 L378.4,185.1 L378.4,184.5 L379.4,184.5 L380.4,184.5 L380.4,183.9 L381.3,183.9 L382.2,183.9 L382.2,182.9 L383.2,182.9 L384.2,182.9 L384.2,182.0 L385.1,182.0 L386.0,182.0 L386.0,180.8 L387.0,180.8 L387.9,180.8 L387.9,179.5 L388.8,179.5 L389.4,179.5 L389.4,178.7 L390.1,178.7 L390.7,178.7 L390.7,177.8 L391.3,177.8 L392.2,177.8 L392.2,176.3 L393.2,176.3 L394.2,176.3 L394.2,174.8 L395.1,174.8 L395.7,174.8 L395.7,173.2 L396.4,173.2 L397.0,173.2 L397.0,171.5 L397.6,171.5 L398.2,171.5 L398.2,170.2 L398.8,170.2 L399.4,170.2 L399.4,168.8 L400.0,168.8 L400.6,168.8 L400.6,167.9 L401.2,167.9 L401.9,167.9 L401.9,167.0 L402.5,167.0 L403.1,167.0 L403.1,165.8 L403.8,165.8 L404.4,165.8 L404.4,164.5 L405.0,164.5 L405.9,164.5 L405.9,163.2 L406.9,163.2 L407.9,163.2 L407.9,162.0 L408.8,162.0 L409.8,162.0 L409.8,161.3 L410.7,161.3 L411.7,161.3 L411.7,160.7 L412.6,160.7 L413.5,160.7 L413.5,160.1 L414.5,160.1 L415.4,160.1 L415.4,159.5 L416.3,159.5 L417.2,159.5 L417.2,158.2 L418.2,158.2 L419.2,158.2 L419.2,156.9 L420.1,156.9 L421.1,156.9 L421.1,155.4 L422.0,155.4 L422.9,155.4 L422.9,153.8 L423.9,153.8 L424.8,153.8 L424.8,152.6 L425.8,152.6 L426.7,152.6 L426.7,151.3 L427.6,151.3 L428.2,151.3 L428.2,150.1 L428.8,150.1 L429.4,150.1 L429.4,148.9 L430.0,148.9 L430.9,148.9 L430.9,147.0 L431.9,147.0 L432.9,147.0 L432.9,145.1 L433.8,145.1 L434.7,145.1 L434.7,143.8 L435.6,143.8 L436.6,143.8 L436.6,142.6 L437.5,142.6 L438.4,142.6 L438.4,141.9 L439.4,141.9 L440.4,141.9 L440.4,141.2 L441.3,141.2 L442.2,141.2 L442.2,140.3 L443.2,140.3 L444.2,140.3 L444.2,139.4 L445.1,139.4 L446.0,139.4 L446.0,138.6 L447.0,138.6 L447.9,138.6 L447.9,137.8 L448.8,137.8 L449.8,137.8 L449.8,136.4 L450.7,136.4 L451.7,136.4 L451.7,135.0 L452.6,135.0 L453.6,135.0 L453.6,133.9 L454.5,133.9 L455.4,133.9 L455.4,132.8 L456.4,132.8 L457.3,132.8 L457.3,131.4 L458.2,131.4 L459.1,131.4 L459.1,130.0 L460.0,130.0 L460.9,130.0 L460.9,128.2 L461.9,128.2 L462.9,128.2 L462.9,126.4 L463.8,126.4 L464.8,126.4 L464.8,125.2 L465.7,125.2 L466.7,125.2 L466.7,123.9 L467.6,123.9 L468.5,123.9 L468.5,123.0 L469.5,123.0 L470.4,123.0 L470.4,122.0 L471.3,122.0 L472.2,122.0 L472.2,121.3 L473.2,121.3 L474.2,121.3 L474.2,120.7 L475.1,120.7 L476.1,120.7 L476.1,119.8 L477.0,119.8 L477.9,119.8 L477.9,118.8 L478.9,118.8 L479.5,118.8 L479.5,117.8 L480.1,117.8 L480.8,117.8 L480.8,116.9 L481.4,116.9 L482.3,116.9 L482.3,116.0 L483.2,116.0 L484.1,116.0 L484.1,115.1 L485.0,115.1 L485.6,115.1 L485.6,114.8 L486.2,114.8 L486.9,114.8 L486.9,114.5 L487.5,114.5 L488.2,114.5 L488.2,113.5 L489.0,113.5 L489.8,113.5 L489.8,112.5 L490.5,112.5 L491.2,112.5 L491.2,111.5 L492.0,111.5 L493.0,111.5 L493.0,110.2 L494.0,110.2 L495.0,110.2 L495.0,109.0 L496.0,109.0 L497.0,109.0 L497.0,108.3 L498.0,108.3 L499.0,108.3 L499.0,107.6 L500.0,107.6 L500.8,107.6 L500.8,107.2 L501.6,107.2 L502.5,107.2 L502.5,106.8 L503.3,106.8 L504.0,106.8 L504.0,105.1 L504.6,105.1 L505.2,105.1 L505.2,103.4 L505.9,103.4 L506.5,103.4 L506.5,102.3 L507.1,102.3 L507.8,102.3 L507.8,101.3 L508.4,101.3 L509.2,101.3 L509.2,100.6 L510.1,100.6 L510.9,100.6 L510.9,99.9 L511.7,99.9 L512.6,99.9 L512.6,99.2 L513.4,99.2 L514.2,99.2 L514.2,98.4 L515.1,98.4 L515.9,98.4 L515.9,97.5 L516.7,97.5 L517.6,97.5 L517.6,96.7 L518.4,96.7 L519.2,96.7 L519.2,95.6 L520.1,95.6 L520.9,95.6 L520.9,94.5 L521.7,94.5 L522.6,94.5 L522.6,93.4 L523.4,93.4 L524.2,93.4 L524.2,91.7 L525.1,91.7 L525.9,91.7 L525.9,90.0 L526.8,90.0 L527.4,90.0 L527.4,88.3 L528.0,88.3 L528.7,88.3 L528.7,86.7 L529.3,86.7 L530.0,86.7 L530.0,85.1 L530.6,85.1 L531.3,85.1 L531.3,83.5 L532.0,83.5 L533.0,83.5 L533.0,82.5 L534.0,82.5 L535.0,82.5 L535.0,81.5 L536.0,81.5 L537.0,81.5 L537.0,80.4 L538.0,80.4 L539.0,80.4 L539.0,79.3 L540.0,79.3 L540.8,79.3 L540.8,77.9 L541.7,77.9 L542.5,77.9 L542.5,76.5 L543.3,76.5 L544.2,76.5 L544.2,75.1 L545.0,75.1 L545.9,75.1 L545.9,73.8 L546.7,73.8 L547.5,73.8 L547.5,72.6 L548.4,72.6 L549.2,72.6 L549.2,71.8 L550.1,71.8 L550.9,71.8 L550.9,70.9 L551.7,70.9 L552.6,70.9 L552.6,70.1 L553.4,70.1 L554.2,70.1 L554.2,69.7 L555.1,69.7 L555.9,69.7 L555.9,69.2 L556.7,69.2 L557.6,69.2 L557.6,68.8 L558.4,68.8 L559.2,68.8 L559.2,68.4 L560.1,68.4 L560.9,68.4 L560.9,68.0 L561.7,68.0 L562.6,68.0 L562.6,67.6 L563.4,67.6 L564.2,67.6 L564.2,66.8 L565.1,66.8 L565.9,66.8 L565.9,65.9 L566.8,65.9 L567.6,65.9 L567.6,64.7 L568.5,64.7 L569.3,64.7 L569.3,63.4 L570.1,63.4 L570.9,63.4 L570.9,63.1 L571.8,63.1 L572.6,63.1 L572.6,62.8 L573.4,62.8 L574.3,62.8 L574.3,62.5 L575.1,62.5 L575.9,62.5 L575.9,62.1 L576.7,62.1 L577.5,62.1 L577.5,61.7 L578.4,61.7 L579.2,61.7 L579.2,61.3 L580.0,61.3 L580.6,61.3 L580.6,60.1 L581.3,60.1 L582.0,60.1 L582.0,58.9 L582.6,58.9 L583.2,58.9 L583.2,58.5 L583.8,58.5 L584.4,58.5 L584.4,58.2 L585.0,58.2 L585.6,58.2 L585.6,56.0 L586.2,56.0 L586.9,56.0 L586.9,53.9 L587.5,53.9 L588.5,53.9 L588.5,52.6 L589.4,52.6 L590.3,52.6 L590.3,51.4 L591.3,51.4 L592.2,51.4 L592.2,51.0 L593.1,51.0 L594.1,51.0 L594.1,50.7 L595.0,50.7 L596.0,50.7 L596.0,49.5 L596.9,49.5 L597.8,49.5 L597.8,48.2 L598.8,48.2 L599.7,48.2 L599.7,47.2 L600.6,47.2 L601.6,47.2 L601.6,46.3 L602.5,46.3 L603.1,46.3 L603.1,45.3 L603.8,45.3 L604.4,45.3 L604.4,44.4 L605.0,44.4 L605.6,44.4 L605.6,41.5 L606.3,41.5 L607.0,41.5 L607.0,39.4 L607.6,39.4 L608.5,39.4 L608.5,38.5 L609.5,38.5 L610.4,38.5 L610.4,37.5 L611.3,37.5 L612.2,37.5 L612.2,36.9 L613.2,36.9 L614.2,36.9 L614.2,36.3 L615.1,36.3 L616.0,36.3 L616.0,35.3 L617.0,35.3 L618.0,35.3 L618.0,34.4 L618.9,34.4 L619.8,34.4 L619.8,33.8 L620.8,33.8 L621.7,33.8 L621.7,33.1 L622.6,33.1 L623.2,33.1 L623.2,32.8 L623.8,32.8 L624.4,32.8 L624.4,32.5 L625.0,32.5 L625.8,32.5 L625.8,31.6 L626.6,31.6 L627.5,31.6 L627.5,30.8 L628.3,30.8 L629.2,30.8 L629.2,29.6 L630.2,29.6 L631.2,29.6 L631.2,28.3 L632.1,28.3 L632.8,28.3 L632.8,27.3 L633.5,27.3 L634.3,27.3 L634.3,26.3 L635.0,26.3 L636.0,26.3 L636.0,25.1 L636.9,25.1 L637.8,25.1 L637.8,23.8 L638.8,23.8 L639.7,23.8 L639.7,23.2 L640.6,23.2 L641.6,23.2 L641.6,22.6 L642.5,22.6 L643.5,22.6 L643.5,22.0 L644.4,22.0 L645.3,22.0 L645.3,21.3 L646.3,21.3 L647.2,21.3 L647.2,20.6 L648.2,20.6 L649.2,20.6 L649.2,19.9 L650.1,19.9 L650.8,19.9 L650.8,19.8 L651.5,19.8 L652.3,19.8 L652.3,19.6 L653.0,19.6" fill="none" stroke="#1B1919" stroke-width="3" stroke-linejoin="round" stroke-linecap="round"/>
<path d="M97.5,364.9 L98.5,364.9 L98.5,364.6 L99.4,364.6 L100.3,364.6 L100.3,364.3 L101.3,364.3 L102.1,364.3 L102.1,363.4 L102.8,363.4 L103.6,363.4 L103.6,362.4 L104.4,362.4 L105.5,362.4 L105.5,360.4 L106.6,360.4 L107.7,360.4 L107.7,358.5 L108.8,358.5 L109.8,358.5 L109.8,356.4 L110.7,356.4 L111.6,356.4 L111.6,354.2 L112.6,354.2 L113.5,354.2 L113.5,351.6 L114.4,351.6 L115.4,351.6 L115.4,349.0 L116.3,349.0 L117.2,349.0 L117.2,347.7 L118.0,347.7 L118.8,347.7 L118.8,346.3 L119.7,346.3 L120.6,346.3 L120.6,345.0 L121.4,345.0 L122.3,345.0 L122.3,344.2 L123.2,344.2 L124.1,344.2 L124.1,343.5 L125.0,343.5 L125.6,343.5 L125.6,342.2 L126.2,342.2 L126.8,342.2 L126.8,340.9 L127.4,340.9 L128.1,340.9 L128.1,339.6 L128.9,339.6 L129.6,339.6 L129.6,338.4 L130.3,338.4 L131.1,338.4 L131.1,337.1 L131.8,337.1 L132.6,337.1 L132.6,335.8 L133.5,335.8 L134.3,335.8 L134.3,334.6 L135.1,334.6 L136.0,334.6 L136.0,333.3 L136.8,333.3 L137.6,333.3 L137.6,331.1 L138.4,331.1 L139.2,331.1 L139.2,329.0 L140.0,329.0 L140.8,329.0 L140.8,327.8 L141.6,327.8 L142.3,327.8 L142.3,326.5 L143.1,326.5 L143.9,326.5 L143.9,325.5 L144.6,325.5 L145.4,325.5 L145.4,324.5 L146.2,324.5 L147.1,324.5 L147.1,322.0 L148.0,322.0 L148.9,322.0 L148.9,321.4 L149.9,321.4 L150.9,321.4 L150.9,320.7 L151.8,320.7 L152.7,320.7 L152.7,320.4 L153.7,320.4 L154.6,320.4 L154.6,320.1 L155.5,320.1 L156.4,320.1 L156.4,319.5 L157.4,319.5 L158.4,319.5 L158.4,318.9 L159.3,318.9 L160.2,318.9 L160.2,317.9 L161.2,317.9 L162.1,317.9 L162.1,317.0 L163.1,317.0 L164.0,317.0 L164.0,316.1 L164.9,316.1 L165.9,316.1 L165.9,315.1 L166.8,315.1 L167.8,315.1 L167.8,313.9 L168.7,313.9 L169.6,313.9 L169.6,312.6 L170.6,312.6 L171.6,312.6 L171.6,311.0 L172.5,311.0 L173.4,311.0 L173.4,309.4 L174.4,309.4 L175.3,309.4 L175.3,308.1 L176.2,308.1 L177.1,308.1 L177.1,306.9 L178.0,306.9 L178.4,306.9 L178.4,305.0 L178.8,305.0 L179.7,305.0 L179.7,303.8 L180.7,303.8 L181.6,303.8 L181.6,302.6 L182.5,302.6 L183.4,302.6 L183.4,301.4 L184.4,301.4 L185.4,301.4 L185.4,300.1 L186.3,300.1 L186.9,300.1 L186.9,298.2 L187.6,298.2 L188.2,298.2 L188.2,296.3 L188.8,296.3 L189.4,296.3 L189.4,295.1 L190.1,295.1 L190.7,295.1 L190.7,293.8 L191.3,293.8 L191.9,293.8 L191.9,292.9 L192.6,292.9 L193.2,292.9 L193.2,292.0 L193.8,292.0 L194.4,292.0 L194.4,291.1 L195.1,291.1 L195.7,291.1 L195.7,290.1 L196.3,290.1 L197.0,290.1 L197.0,289.1 L197.6,289.1 L198.2,289.1 L198.2,288.2 L198.9,288.2 L199.8,288.2 L199.8,286.3 L200.8,286.3 L201.7,286.3 L201.7,284.4 L202.6,284.4 L203.2,284.4 L203.2,283.4 L203.8,283.4 L204.4,283.4 L204.4,282.5 L205.0,282.5 L205.6,282.5 L205.6,280.7 L206.2,280.7 L206.9,280.7 L206.9,278.9 L207.5,278.9 L208.4,278.9 L208.4,277.6 L209.4,277.6 L210.4,277.6 L210.4,276.4 L211.3,276.4 L212.2,276.4 L212.2,275.4 L213.2,275.4 L214.1,275.4 L214.1,274.5 L215.0,274.5 L215.9,274.5 L215.9,273.2 L216.9,273.2 L217.9,273.2 L217.9,272.0 L218.8,272.0 L219.8,272.0 L219.8,270.4 L220.7,270.4 L221.6,270.4 L221.6,268.8 L222.6,268.8 L223.5,268.8 L223.5,267.6 L224.4,267.6 L225.4,267.6 L225.4,266.3 L226.3,266.3 L227.2,266.3 L227.2,264.5 L228.2,264.5 L229.1,264.5 L229.1,262.6 L230.1,262.6 L230.7,262.6 L230.7,261.0 L231.3,261.0 L232.0,261.0 L232.0,259.4 L232.6,259.4 L233.2,259.4 L233.2,257.5 L233.8,257.5 L234.4,257.5 L234.4,255.7 L235.0,255.7 L235.9,255.7 L235.9,254.1 L236.9,254.1 L237.9,254.1 L237.9,252.6 L238.8,252.6 L239.7,252.6 L239.7,251.0 L240.7,251.0 L241.6,251.0 L241.6,249.4 L242.5,249.4 L243.4,249.4 L243.4,247.9 L244.4,247.9 L245.4,247.9 L245.4,246.3 L246.3,246.3 L247.2,246.3 L247.2,245.1 L248.2,245.1 L249.1,245.1 L249.1,243.8 L250.1,243.8 L251.0,243.8 L251.0,242.9 L251.9,242.9 L252.9,242.9 L252.9,241.9 L253.8,241.9 L254.4,241.9 L254.4,240.9 L255.1,240.9 L255.7,240.9 L255.7,240.0 L256.3,240.0 L257.0,240.0 L257.0,236.3 L257.6,236.3 L258.6,236.3 L258.6,235.4 L259.5,235.4 L260.4,235.4 L260.4,234.5 L261.4,234.5 L262.0,234.5 L262.0,233.6 L262.6,233.6 L263.2,233.6 L263.2,232.6 L263.8,232.6 L264.7,232.6 L264.7,230.8 L265.6,230.8 L266.6,230.8 L266.6,228.9 L267.5,228.9 L268.4,228.9 L268.4,227.6 L269.4,227.6 L270.4,227.6 L270.4,226.3 L271.3,226.3 L272.2,226.3 L272.2,225.4 L273.2,225.4 L274.2,225.4 L274.2,224.5 L275.1,224.5 L276.0,224.5 L276.0,223.6 L277.0,223.6 L277.9,223.6 L277.9,222.6 L278.8,222.6 L279.8,222.6 L279.8,221.3 L280.7,221.3 L281.7,221.3 L281.7,220.1 L282.6,220.1 L283.6,220.1 L283.6,217.9 L284.5,217.9 L285.4,217.9 L285.4,215.7 L286.4,215.7 L287.3,215.7 L287.3,214.4 L288.2,214.4 L289.1,214.4 L289.1,213.2 L290.0,213.2 L290.8,213.2 L290.8,212.2 L291.7,212.2 L292.5,212.2 L292.5,211.1 L293.3,211.1 L294.2,211.1 L294.2,210.1 L295.0,210.1 L295.9,210.1 L295.9,208.8 L296.9,208.8 L297.9,208.8 L297.9,207.6 L298.8,207.6 L299.7,207.6 L299.7,206.3 L300.6,206.3 L301.6,206.3 L301.6,205.0 L302.5,205.0 L303.4,205.0 L303.4,203.8 L304.4,203.8 L305.4,203.8 L305.4,202.5 L306.3,202.5 L307.2,202.5 L307.2,201.6 L308.2,201.6 L309.2,201.6 L309.2,200.6 L310.1,200.6 L311.0,200.6 L311.0,200.0 L312.0,200.0 L312.9,200.0 L312.9,199.4 L313.8,199.4 L314.8,199.4 L314.8,199.1 L315.7,199.1 L316.7,199.1 L316.7,198.8 L317.6,198.8 L318.6,198.8 L318.6,198.2 L319.5,198.2 L320.4,198.2 L320.4,197.5 L321.4,197.5 L322.3,197.5 L322.3,195.3 L323.2,195.3 L324.1,195.3 L324.1,193.2 L325.0,193.2 L325.9,193.2 L325.9,191.9 L326.9,191.9 L327.9,191.9 L327.9,190.6 L328.8,190.6 L329.7,190.6 L329.7,189.7 L330.6,189.7 L331.6,189.7 L331.6,188.8 L332.5,188.8 L333.4,188.8 L333.4,188.0 L334.2,188.0 L335.1,188.0 L335.1,187.1 L335.9,187.1 L336.8,187.1 L336.8,186.3 L337.6,186.3 L338.5,186.3 L338.5,185.7 L339.5,185.7 L340.4,185.7 L340.4,185.0 L341.3,185.0 L341.9,185.0 L341.9,183.5 L342.6,183.5 L343.2,183.5 L343.2,182.0 L343.8,182.0 L344.7,182.0 L344.7,180.1 L345.6,180.1 L346.6,180.1 L346.6,178.2 L347.5,178.2 L348.4,178.2 L348.4,176.9 L349.4,176.9 L350.4,176.9 L350.4,175.7 L351.3,175.7 L352.2,175.7 L352.2,174.4 L353.2,174.4 L354.2,174.4 L354.2,173.2 L355.1,173.2 L356.0,173.2 L356.0,172.8 L357.0,172.8 L357.9,172.8 L357.9,172.5 L358.8,172.5 L359.8,172.5 L359.8,171.9 L360.7,171.9 L361.7,171.9 L361.7,171.3 L362.6,171.3 L363.2,171.3 L363.2,169.7 L363.9,169.7 L364.5,169.7 L364.5,168.1 L365.1,168.1 L365.7,168.1 L365.7,167.2 L366.4,167.2 L367.0,167.2 L367.0,166.3 L367.6,166.3 L368.2,166.3 L368.2,165.9 L368.8,165.9 L369.4,165.9 L369.4,165.6 L370.0,165.6 L370.8,165.6 L370.8,164.2 L371.7,164.2 L372.5,164.2 L372.5,162.8 L373.3,162.8 L374.2,162.8 L374.2,161.4 L375.0,161.4 L375.9,161.4 L375.9,160.4 L376.9,160.4 L377.9,160.4 L377.9,159.5 L378.8,159.5 L379.7,159.5 L379.7,158.8 L380.6,158.8 L381.6,158.8 L381.6,158.2 L382.5,158.2 L383.4,158.2 L383.4,157.2 L384.4,157.2 L385.4,157.2 L385.4,156.3 L386.3,156.3 L387.2,156.3 L387.2,155.1 L388.2,155.1 L389.2,155.1 L389.2,153.8 L390.1,153.8 L391.0,153.8 L391.0,152.2 L392.0,152.2 L392.9,152.2 L392.9,150.7 L393.8,150.7 L394.8,150.7 L394.8,149.8 L395.7,149.8 L396.7,149.8 L396.7,148.8 L397.6,148.8 L398.6,148.8 L398.6,147.9 L399.5,147.9 L400.4,147.9 L400.4,146.9 L401.4,146.9 L402.2,146.9 L402.2,146.1 L403.0,146.1 L403.9,146.1 L403.9,145.2 L404.7,145.2 L405.5,145.2 L405.5,144.4 L406.3,144.4 L407.4,144.4 L407.4,143.6 L408.4,143.6 L409.5,143.6 L409.5,142.7 L410.5,142.7 L411.6,142.7 L411.6,141.9 L412.6,141.9 L413.6,141.9 L413.6,141.0 L414.7,141.0 L415.7,141.0 L415.7,140.1 L416.7,140.1 L417.8,140.1 L417.8,139.2 L418.8,139.2 L419.4,139.2 L419.4,137.8 L420.1,137.8 L420.7,137.8 L420.7,136.4 L421.3,136.4 L422.2,136.4 L422.2,135.2 L423.2,135.2 L424.2,135.2 L424.2,133.9 L425.1,133.9 L426.1,133.9 L426.1,132.9 L427.0,132.9 L427.9,132.9 L427.9,132.0 L428.9,132.0 L429.4,132.0 L429.4,130.0 L430.0,130.0 L430.9,130.0 L430.9,129.1 L431.9,129.1 L432.9,129.1 L432.9,128.2 L433.8,128.2 L434.7,128.2 L434.7,126.9 L435.6,126.9 L436.6,126.9 L436.6,125.6 L437.5,125.6 L438.1,125.6 L438.1,124.0 L438.8,124.0 L439.4,124.0 L439.4,122.5 L440.0,122.5 L440.6,122.5 L440.6,119.5 L441.3,119.5 L442.2,119.5 L442.2,118.5 L443.1,118.5 L444.1,118.5 L444.1,117.6 L445.0,117.6 L445.9,117.6 L445.9,116.7 L446.9,116.7 L447.9,116.7 L447.9,115.7 L448.8,115.7 L449.4,115.7 L449.4,113.8 L450.1,113.8 L450.7,113.8 L450.7,112.0 L451.3,112.0 L451.9,112.0 L451.9,110.4 L452.6,110.4 L453.2,110.4 L453.2,108.8 L453.8,108.8 L454.4,108.8 L454.4,108.2 L455.0,108.2 L455.9,108.2 L455.9,107.2 L456.9,107.2 L457.9,107.2 L457.9,106.3 L458.8,106.3 L459.7,106.3 L459.7,105.9 L460.6,105.9 L461.6,105.9 L461.6,105.6 L462.5,105.6 L463.4,105.6 L463.4,104.8 L464.4,104.8 L465.4,104.8 L465.4,104.0 L466.3,104.0 L467.2,104.0 L467.2,103.2 L468.2,103.2 L469.2,103.2 L469.2,102.5 L470.1,102.5 L471.0,102.5 L471.0,101.6 L472.0,101.6 L472.9,101.6 L472.9,100.7 L473.8,100.7 L474.8,100.7 L474.8,99.8 L475.7,99.8 L476.7,99.8 L476.7,98.8 L477.6,98.8 L478.5,98.8 L478.5,97.3 L479.5,97.3 L480.4,97.3 L480.4,95.8 L481.3,95.8 L482.2,95.8 L482.2,94.5 L483.2,94.5 L484.2,94.5 L484.2,93.2 L485.1,93.2 L486.1,93.2 L486.1,92.6 L487.0,92.6 L487.9,92.6 L487.9,92.0 L488.9,92.0 L489.8,92.0 L489.8,91.7 L490.8,91.7 L491.7,91.7 L491.7,91.3 L492.6,91.3 L493.2,91.3 L493.2,91.3 L493.8,91.3 L494.4,91.3 L494.4,91.3 L495.0,91.3 L495.8,91.3 L495.8,90.7 L496.7,90.7 L497.5,90.7 L497.5,90.1 L498.3,90.1 L499.2,90.1 L499.2,89.5 L500.0,89.5 L500.9,89.5 L500.9,88.8 L501.9,88.8 L502.9,88.8 L502.9,88.2 L503.8,88.2 L504.7,88.2 L504.7,87.6 L505.6,87.6 L506.6,87.6 L506.6,86.9 L507.5,86.9 L508.4,86.9 L508.4,85.7 L509.4,85.7 L510.4,85.7 L510.4,84.4 L511.3,84.4 L512.2,84.4 L512.2,83.2 L513.2,83.2 L514.2,83.2 L514.2,81.9 L515.1,81.9 L516.0,81.9 L516.0,80.3 L517.0,80.3 L517.9,80.3 L517.9,78.8 L518.8,78.8 L519.8,78.8 L519.8,77.5 L520.7,77.5 L521.7,77.5 L521.7,76.3 L522.6,76.3 L523.2,76.3 L523.2,75.4 L523.8,75.4 L524.4,75.4 L524.4,74.5 L525.0,74.5 L526.0,74.5 L526.0,73.0 L526.9,73.0 L527.8,73.0 L527.8,71.4 L528.8,71.4 L529.4,71.4 L529.4,70.2 L530.0,70.2 L530.7,70.2 L530.7,68.9 L531.3,68.9 L532.2,68.9 L532.2,68.0 L533.1,68.0 L534.1,68.0 L534.1,67.0 L535.0,67.0 L536.0,67.0 L536.0,66.3 L536.9,66.3 L537.8,66.3 L537.8,65.7 L538.8,65.7 L539.4,65.7 L539.4,64.2 L540.0,64.2 L540.8,64.2 L540.8,63.1 L541.7,63.1 L542.5,63.1 L542.5,62.0 L543.3,62.0 L544.2,62.0 L544.2,60.9 L545.0,60.9 L545.8,60.9 L545.8,60.3 L546.7,60.3 L547.5,60.3 L547.5,59.8 L548.3,59.8 L549.2,59.8 L549.2,59.2 L550.0,59.2 L550.9,59.2 L550.9,58.9 L551.7,58.9 L552.5,58.9 L552.5,58.6 L553.4,58.6 L554.2,58.6 L554.2,58.3 L555.1,58.3 L555.9,58.3 L555.9,57.8 L556.8,57.8 L557.6,57.8 L557.6,57.2 L558.4,57.2 L559.3,57.2 L559.3,56.7 L560.1,56.7 L560.9,56.7 L560.9,56.0 L561.8,56.0 L562.6,56.0 L562.6,55.2 L563.4,55.2 L564.3,55.2 L564.3,54.5 L565.1,54.5 L565.9,54.5 L565.9,54.0 L566.8,54.0 L567.6,54.0 L567.6,53.4 L568.4,53.4 L569.3,53.4 L569.3,52.9 L570.1,52.9 L571.0,52.9 L571.0,52.6 L572.0,52.6 L572.9,52.6 L572.9,52.3 L573.8,52.3 L574.8,52.3 L574.8,52.1 L575.7,52.1 L576.7,52.1 L576.7,52.0 L577.6,52.0 L578.5,52.0 L578.5,51.6 L579.5,51.6 L580.5,51.6 L580.5,51.3 L581.4,51.3 L582.3,51.3 L582.3,51.0 L583.2,51.0 L584.1,51.0 L584.1,50.7 L585.0,50.7 L586.0,50.7 L586.0,49.8 L586.9,49.8 L587.8,49.8 L587.8,48.9 L588.8,48.9 L589.7,48.9 L589.7,47.3 L590.6,47.3 L591.6,47.3 L591.6,45.7 L592.5,45.7 L593.5,45.7 L593.5,44.8 L594.4,44.8 L595.3,44.8 L595.3,43.8 L596.3,43.8 L597.2,43.8 L597.2,43.2 L598.2,43.2 L599.2,43.2 L599.2,42.6 L600.1,42.6 L601.0,42.6 L601.0,42.3 L602.0,42.3 L602.9,42.3 L602.9,42.0 L603.8,42.0 L604.8,42.0 L604.8,41.6 L605.7,41.6 L606.7,41.6 L606.7,41.3 L607.6,41.3 L608.5,41.3 L608.5,41.2 L609.3,41.2 L610.2,41.2 L610.2,41.1 L611.0,41.1 L611.9,41.1 L611.9,41.0 L612.8,41.0 L613.6,41.0 L613.6,40.9 L614.5,40.9 L615.5,40.9 L615.5,40.0 L616.4,40.0 L617.3,40.0 L617.3,39.0 L618.3,39.0 L619.2,39.0 L619.2,38.0 L620.1,38.0 L621.1,38.0 L621.1,37.1 L622.0,37.1 L623.0,37.1 L623.0,36.2 L623.9,36.2 L624.8,36.2 L624.8,35.2 L625.8,35.2 L626.8,35.2 L626.8,34.0 L627.7,34.0 L628.7,34.0 L628.7,32.7 L629.6,32.7 L630.5,32.7 L630.5,31.8 L631.5,31.8 L632.4,31.8 L632.4,30.8 L633.3,30.8 L634.1,30.8 L634.1,30.7 L635.0,30.7 L636.0,30.7 L636.0,29.4 L636.9,29.4 L637.8,29.4 L637.8,28.2 L638.8,28.2 L639.7,28.2 L639.7,26.9 L640.6,26.9 L641.6,26.9 L641.6,25.7 L642.5,25.7 L643.5,25.7 L643.5,24.8 L644.4,24.8 L645.3,24.8 L645.3,23.8 L646.3,23.8 L647.2,23.8 L647.2,22.9 L648.2,22.9 L649.2,22.9 L649.2,21.9 L650.1,21.9 L651.0,21.9 L651.0,21.0 L652.0,21.0 L652.9,21.0 L652.9,20.2 L653.8,20.2 L654.8,20.2 L654.8,19.6 L655.7,19.6" fill="none" stroke="#FDAF91" stroke-width="3" stroke-linejoin="round" stroke-linecap="round"/>
<rect x="70" y="2" width="613" height="426" fill="none" stroke="#000" stroke-width="2"/>
<line x1="65.5" y1="20.30" x2="69" y2="20.30" stroke="#333" stroke-width="1.3"/>
<text x="62.2" y="27.50" text-anchor="end" class="tk">1.00</text>
<line x1="65.5" y1="54.67" x2="69" y2="54.67" stroke="#333" stroke-width="1.3"/>
<text x="62.2" y="61.87" text-anchor="end" class="tk">0.90</text>
<line x1="65.5" y1="106.23" x2="69" y2="106.23" stroke="#333" stroke-width="1.3"/>
<text x="62.2" y="113.43" text-anchor="end" class="tk">0.75</text>
<line x1="65.5" y1="192.15" x2="69" y2="192.15" stroke="#333" stroke-width="1.3"/>
<text x="62.2" y="199.35" text-anchor="end" class="tk">0.50</text>
<line x1="65.5" y1="278.07" x2="69" y2="278.07" stroke="#333" stroke-width="1.3"/>
<text x="62.2" y="285.27" text-anchor="end" class="tk">0.25</text>
<line x1="65.5" y1="329.63" x2="69" y2="329.63" stroke="#333" stroke-width="1.3"/>
<text x="62.2" y="336.83" text-anchor="end" class="tk">0.10</text>
<line x1="65.5" y1="364.00" x2="69" y2="364.00" stroke="#333" stroke-width="1.3"/>
<text x="62.2" y="371.20" text-anchor="end" class="tk">0.00</text>
<line x1="656.00" y1="429" x2="656.00" y2="432" stroke="#333" stroke-width="1.3"/>
<text x="656.00" y="448.8" text-anchor="middle" class="tk">1.00</text>
<line x1="600.15" y1="429" x2="600.15" y2="432" stroke="#333" stroke-width="1.3"/>
<text x="600.15" y="448.8" text-anchor="middle" class="tk">0.90</text>
<line x1="516.38" y1="429" x2="516.38" y2="432" stroke="#333" stroke-width="1.3"/>
<text x="516.38" y="448.8" text-anchor="middle" class="tk">0.75</text>
<line x1="376.75" y1="429" x2="376.75" y2="432" stroke="#333" stroke-width="1.3"/>
<text x="376.75" y="448.8" text-anchor="middle" class="tk">0.50</text>
<line x1="237.12" y1="429" x2="237.12" y2="432" stroke="#333" stroke-width="1.3"/>
<text x="237.12" y="448.8" text-anchor="middle" class="tk">0.25</text>
<line x1="153.35" y1="429" x2="153.35" y2="432" stroke="#333" stroke-width="1.3"/>
<text x="153.35" y="448.8" text-anchor="middle" class="tk">0.10</text>
<line x1="97.50" y1="429" x2="97.50" y2="432" stroke="#333" stroke-width="1.3"/>
<text x="97.50" y="448.8" text-anchor="middle" class="tk">0.00</text>
<text x="377" y="472.7" text-anchor="middle" class="ti">False positive fraction</text>
<text transform="translate(16.3,214.5) rotate(-90)" text-anchor="middle" class="ti">True positive fraction</text>
<text x="488.5" y="192.5" class="lt">AUC:</text>
<line x1="472" y1="209.10" x2="484" y2="209.10" stroke="#00468B" stroke-width="2"/>
<text x="489" y="216.50" class="li b">NHR = 0.61</text>
<line x1="472" y1="233.14" x2="484" y2="233.14" stroke="#ED0000" stroke-width="2"/>
<text x="489" y="240.54" class="li">Alb = 0.60</text>
<line x1="472" y1="257.18" x2="484" y2="257.18" stroke="#42B540" stroke-width="2"/>
<text x="489" y="264.58" class="li">HDL = 0.59</text>
<line x1="472" y1="281.22" x2="484" y2="281.22" stroke="#0099B4" stroke-width="2"/>
<text x="489" y="288.62" class="li">Lymph = 0.56</text>
<line x1="472" y1="305.26" x2="484" y2="305.26" stroke="#925E9F" stroke-width="2"/>
<text x="489" y="312.66" class="li">Glu = 0.56</text>
<line x1="472" y1="329.30" x2="484" y2="329.30" stroke="#FDAF91" stroke-width="2"/>
<text x="489" y="336.70" class="li">Neut = 0.56</text>
<line x1="472" y1="353.34" x2="484" y2="353.34" stroke="#AD002A" stroke-width="2"/>
<text x="489" y="360.74" class="li">WBC = 0.55</text>
<line x1="472" y1="377.38" x2="484" y2="377.38" stroke="#ADB6B6" stroke-width="2"/>
<text x="489" y="384.78" class="li">APTT = 0.53</text>
<line x1="472" y1="401.42" x2="484" y2="401.42" stroke="#1B1919" stroke-width="2"/>
<text x="489" y="408.82" class="li">Plt = 0.53</text>
</svg>
</body></html>
